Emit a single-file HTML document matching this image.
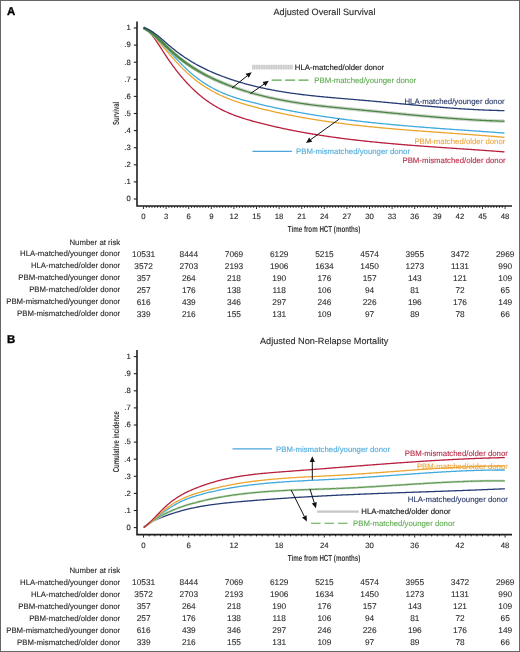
<!DOCTYPE html>
<html><head><meta charset="utf-8"><style>
html,body{margin:0;padding:0;background:#fff;}
#wrap{position:relative;width:520px;height:652px;overflow:hidden;background:#fff;}
#frame{position:absolute;left:0;top:0;width:518px;height:650px;border:1px solid #666;}
svg{position:absolute;left:0;top:0;will-change:transform;}
text{font-family:"Liberation Sans",sans-serif;text-rendering:geometricPrecision;}
</style></head><body><div id="wrap">
<svg width="520" height="652" viewBox="0 0 520 652">
<text x="6.9" y="14.8" text-anchor="start" fill="#000" font-size="11.4" font-weight="bold" stroke="#000" stroke-width="0.35">A</text>
<text x="324.5" y="14.9" text-anchor="middle" fill="#2a2a2a" font-size="9.15"  stroke="#2a2a2a" stroke-width="0.12">Adjusted Overall Survival</text>
<path d="M137.0,21.5 V206 H512" fill="none" stroke="#1e1e1e" stroke-width="1.6"/>
<path d="M133.8,28.00 H137.0" stroke="#222" stroke-width="1.1"/>
<text x="130.7" y="30.3" text-anchor="end" fill="#2a2a2a" font-size="7.7" stroke="#2a2a2a" stroke-width="0.15">1</text>
<path d="M133.8,45.10 H137.0" stroke="#222" stroke-width="1.1"/>
<text x="130.7" y="47.4" text-anchor="end" fill="#2a2a2a" font-size="7.7" stroke="#2a2a2a" stroke-width="0.15">.9</text>
<path d="M133.8,62.20 H137.0" stroke="#222" stroke-width="1.1"/>
<text x="130.7" y="64.5" text-anchor="end" fill="#2a2a2a" font-size="7.7" stroke="#2a2a2a" stroke-width="0.15">.8</text>
<path d="M133.8,79.30 H137.0" stroke="#222" stroke-width="1.1"/>
<text x="130.7" y="81.60000000000001" text-anchor="end" fill="#2a2a2a" font-size="7.7" stroke="#2a2a2a" stroke-width="0.15">.7</text>
<path d="M133.8,96.40 H137.0" stroke="#222" stroke-width="1.1"/>
<text x="130.7" y="98.7" text-anchor="end" fill="#2a2a2a" font-size="7.7" stroke="#2a2a2a" stroke-width="0.15">.6</text>
<path d="M133.8,113.50 H137.0" stroke="#222" stroke-width="1.1"/>
<text x="130.7" y="115.8" text-anchor="end" fill="#2a2a2a" font-size="7.7" stroke="#2a2a2a" stroke-width="0.15">.5</text>
<path d="M133.8,130.60 H137.0" stroke="#222" stroke-width="1.1"/>
<text x="130.7" y="132.90000000000003" text-anchor="end" fill="#2a2a2a" font-size="7.7" stroke="#2a2a2a" stroke-width="0.15">.4</text>
<path d="M133.8,147.70 H137.0" stroke="#222" stroke-width="1.1"/>
<text x="130.7" y="150.00000000000003" text-anchor="end" fill="#2a2a2a" font-size="7.7" stroke="#2a2a2a" stroke-width="0.15">.3</text>
<path d="M133.8,164.80 H137.0" stroke="#222" stroke-width="1.1"/>
<text x="130.7" y="167.10000000000002" text-anchor="end" fill="#2a2a2a" font-size="7.7" stroke="#2a2a2a" stroke-width="0.15">.2</text>
<path d="M133.8,181.90 H137.0" stroke="#222" stroke-width="1.1"/>
<text x="130.7" y="184.20000000000002" text-anchor="end" fill="#2a2a2a" font-size="7.7" stroke="#2a2a2a" stroke-width="0.15">.1</text>
<path d="M133.8,199.00 H137.0" stroke="#222" stroke-width="1.1"/>
<text x="130.7" y="201.3" text-anchor="end" fill="#2a2a2a" font-size="7.7" stroke="#2a2a2a" stroke-width="0.15">0</text>
<path d="M143.50,206 V209" stroke="#333" stroke-width="1"/>
<text x="143.50" y="219.4" text-anchor="middle" fill="#2a2a2a" font-size="7.8" stroke="#2a2a2a" stroke-width="0.12">0</text>
<path d="M146.32,206 V207.8" stroke="#222" stroke-width="1"/>
<path d="M149.15,206 V207.8" stroke="#222" stroke-width="1"/>
<path d="M151.97,206 V207.8" stroke="#222" stroke-width="1"/>
<path d="M154.80,206 V207.8" stroke="#222" stroke-width="1"/>
<path d="M157.62,206 V207.8" stroke="#222" stroke-width="1"/>
<path d="M160.45,206 V207.8" stroke="#222" stroke-width="1"/>
<path d="M163.28,206 V207.8" stroke="#222" stroke-width="1"/>
<path d="M166.10,206 V209" stroke="#333" stroke-width="1"/>
<text x="166.10" y="219.4" text-anchor="middle" fill="#2a2a2a" font-size="7.8" stroke="#2a2a2a" stroke-width="0.12">3</text>
<path d="M168.92,206 V207.8" stroke="#222" stroke-width="1"/>
<path d="M171.75,206 V207.8" stroke="#222" stroke-width="1"/>
<path d="M174.57,206 V207.8" stroke="#222" stroke-width="1"/>
<path d="M177.40,206 V207.8" stroke="#222" stroke-width="1"/>
<path d="M180.22,206 V207.8" stroke="#222" stroke-width="1"/>
<path d="M183.05,206 V207.8" stroke="#222" stroke-width="1"/>
<path d="M185.88,206 V207.8" stroke="#222" stroke-width="1"/>
<path d="M188.70,206 V209" stroke="#333" stroke-width="1"/>
<text x="188.70" y="219.4" text-anchor="middle" fill="#2a2a2a" font-size="7.8" stroke="#2a2a2a" stroke-width="0.12">6</text>
<path d="M191.52,206 V207.8" stroke="#222" stroke-width="1"/>
<path d="M194.35,206 V207.8" stroke="#222" stroke-width="1"/>
<path d="M197.17,206 V207.8" stroke="#222" stroke-width="1"/>
<path d="M200.00,206 V207.8" stroke="#222" stroke-width="1"/>
<path d="M202.82,206 V207.8" stroke="#222" stroke-width="1"/>
<path d="M205.65,206 V207.8" stroke="#222" stroke-width="1"/>
<path d="M208.47,206 V207.8" stroke="#222" stroke-width="1"/>
<path d="M211.30,206 V209" stroke="#333" stroke-width="1"/>
<text x="211.30" y="219.4" text-anchor="middle" fill="#2a2a2a" font-size="7.8" stroke="#2a2a2a" stroke-width="0.12">9</text>
<path d="M214.12,206 V207.8" stroke="#222" stroke-width="1"/>
<path d="M216.95,206 V207.8" stroke="#222" stroke-width="1"/>
<path d="M219.78,206 V207.8" stroke="#222" stroke-width="1"/>
<path d="M222.60,206 V207.8" stroke="#222" stroke-width="1"/>
<path d="M225.43,206 V207.8" stroke="#222" stroke-width="1"/>
<path d="M228.25,206 V207.8" stroke="#222" stroke-width="1"/>
<path d="M231.08,206 V207.8" stroke="#222" stroke-width="1"/>
<path d="M233.90,206 V209" stroke="#333" stroke-width="1"/>
<text x="233.90" y="219.4" text-anchor="middle" fill="#2a2a2a" font-size="7.8" stroke="#2a2a2a" stroke-width="0.12">12</text>
<path d="M236.72,206 V207.8" stroke="#222" stroke-width="1"/>
<path d="M239.55,206 V207.8" stroke="#222" stroke-width="1"/>
<path d="M242.38,206 V207.8" stroke="#222" stroke-width="1"/>
<path d="M245.20,206 V207.8" stroke="#222" stroke-width="1"/>
<path d="M248.03,206 V207.8" stroke="#222" stroke-width="1"/>
<path d="M250.85,206 V207.8" stroke="#222" stroke-width="1"/>
<path d="M253.68,206 V207.8" stroke="#222" stroke-width="1"/>
<path d="M256.50,206 V209" stroke="#333" stroke-width="1"/>
<text x="256.50" y="219.4" text-anchor="middle" fill="#2a2a2a" font-size="7.8" stroke="#2a2a2a" stroke-width="0.12">15</text>
<path d="M259.32,206 V207.8" stroke="#222" stroke-width="1"/>
<path d="M262.15,206 V207.8" stroke="#222" stroke-width="1"/>
<path d="M264.98,206 V207.8" stroke="#222" stroke-width="1"/>
<path d="M267.80,206 V207.8" stroke="#222" stroke-width="1"/>
<path d="M270.62,206 V207.8" stroke="#222" stroke-width="1"/>
<path d="M273.45,206 V207.8" stroke="#222" stroke-width="1"/>
<path d="M276.27,206 V207.8" stroke="#222" stroke-width="1"/>
<path d="M279.10,206 V209" stroke="#333" stroke-width="1"/>
<text x="279.10" y="219.4" text-anchor="middle" fill="#2a2a2a" font-size="7.8" stroke="#2a2a2a" stroke-width="0.12">18</text>
<path d="M281.93,206 V207.8" stroke="#222" stroke-width="1"/>
<path d="M284.75,206 V207.8" stroke="#222" stroke-width="1"/>
<path d="M287.58,206 V207.8" stroke="#222" stroke-width="1"/>
<path d="M290.40,206 V207.8" stroke="#222" stroke-width="1"/>
<path d="M293.23,206 V207.8" stroke="#222" stroke-width="1"/>
<path d="M296.05,206 V207.8" stroke="#222" stroke-width="1"/>
<path d="M298.88,206 V207.8" stroke="#222" stroke-width="1"/>
<path d="M301.70,206 V209" stroke="#333" stroke-width="1"/>
<text x="301.70" y="219.4" text-anchor="middle" fill="#2a2a2a" font-size="7.8" stroke="#2a2a2a" stroke-width="0.12">21</text>
<path d="M304.53,206 V207.8" stroke="#222" stroke-width="1"/>
<path d="M307.35,206 V207.8" stroke="#222" stroke-width="1"/>
<path d="M310.18,206 V207.8" stroke="#222" stroke-width="1"/>
<path d="M313.00,206 V207.8" stroke="#222" stroke-width="1"/>
<path d="M315.83,206 V207.8" stroke="#222" stroke-width="1"/>
<path d="M318.65,206 V207.8" stroke="#222" stroke-width="1"/>
<path d="M321.48,206 V207.8" stroke="#222" stroke-width="1"/>
<path d="M324.30,206 V209" stroke="#333" stroke-width="1"/>
<text x="324.30" y="219.4" text-anchor="middle" fill="#2a2a2a" font-size="7.8" stroke="#2a2a2a" stroke-width="0.12">24</text>
<path d="M327.12,206 V207.8" stroke="#222" stroke-width="1"/>
<path d="M329.95,206 V207.8" stroke="#222" stroke-width="1"/>
<path d="M332.78,206 V207.8" stroke="#222" stroke-width="1"/>
<path d="M335.60,206 V207.8" stroke="#222" stroke-width="1"/>
<path d="M338.43,206 V207.8" stroke="#222" stroke-width="1"/>
<path d="M341.25,206 V207.8" stroke="#222" stroke-width="1"/>
<path d="M344.07,206 V207.8" stroke="#222" stroke-width="1"/>
<path d="M346.90,206 V209" stroke="#333" stroke-width="1"/>
<text x="346.90" y="219.4" text-anchor="middle" fill="#2a2a2a" font-size="7.8" stroke="#2a2a2a" stroke-width="0.12">27</text>
<path d="M349.72,206 V207.8" stroke="#222" stroke-width="1"/>
<path d="M352.55,206 V207.8" stroke="#222" stroke-width="1"/>
<path d="M355.38,206 V207.8" stroke="#222" stroke-width="1"/>
<path d="M358.20,206 V207.8" stroke="#222" stroke-width="1"/>
<path d="M361.02,206 V207.8" stroke="#222" stroke-width="1"/>
<path d="M363.85,206 V207.8" stroke="#222" stroke-width="1"/>
<path d="M366.67,206 V207.8" stroke="#222" stroke-width="1"/>
<path d="M369.50,206 V209" stroke="#333" stroke-width="1"/>
<text x="369.50" y="219.4" text-anchor="middle" fill="#2a2a2a" font-size="7.8" stroke="#2a2a2a" stroke-width="0.12">30</text>
<path d="M372.32,206 V207.8" stroke="#222" stroke-width="1"/>
<path d="M375.15,206 V207.8" stroke="#222" stroke-width="1"/>
<path d="M377.98,206 V207.8" stroke="#222" stroke-width="1"/>
<path d="M380.80,206 V207.8" stroke="#222" stroke-width="1"/>
<path d="M383.62,206 V207.8" stroke="#222" stroke-width="1"/>
<path d="M386.45,206 V207.8" stroke="#222" stroke-width="1"/>
<path d="M389.27,206 V207.8" stroke="#222" stroke-width="1"/>
<path d="M392.10,206 V209" stroke="#333" stroke-width="1"/>
<text x="392.10" y="219.4" text-anchor="middle" fill="#2a2a2a" font-size="7.8" stroke="#2a2a2a" stroke-width="0.12">33</text>
<path d="M394.93,206 V207.8" stroke="#222" stroke-width="1"/>
<path d="M397.75,206 V207.8" stroke="#222" stroke-width="1"/>
<path d="M400.58,206 V207.8" stroke="#222" stroke-width="1"/>
<path d="M403.40,206 V207.8" stroke="#222" stroke-width="1"/>
<path d="M406.23,206 V207.8" stroke="#222" stroke-width="1"/>
<path d="M409.05,206 V207.8" stroke="#222" stroke-width="1"/>
<path d="M411.88,206 V207.8" stroke="#222" stroke-width="1"/>
<path d="M414.70,206 V209" stroke="#333" stroke-width="1"/>
<text x="414.70" y="219.4" text-anchor="middle" fill="#2a2a2a" font-size="7.8" stroke="#2a2a2a" stroke-width="0.12">36</text>
<path d="M417.53,206 V207.8" stroke="#222" stroke-width="1"/>
<path d="M420.35,206 V207.8" stroke="#222" stroke-width="1"/>
<path d="M423.18,206 V207.8" stroke="#222" stroke-width="1"/>
<path d="M426.00,206 V207.8" stroke="#222" stroke-width="1"/>
<path d="M428.83,206 V207.8" stroke="#222" stroke-width="1"/>
<path d="M431.65,206 V207.8" stroke="#222" stroke-width="1"/>
<path d="M434.48,206 V207.8" stroke="#222" stroke-width="1"/>
<path d="M437.30,206 V209" stroke="#333" stroke-width="1"/>
<text x="437.30" y="219.4" text-anchor="middle" fill="#2a2a2a" font-size="7.8" stroke="#2a2a2a" stroke-width="0.12">39</text>
<path d="M440.12,206 V207.8" stroke="#222" stroke-width="1"/>
<path d="M442.95,206 V207.8" stroke="#222" stroke-width="1"/>
<path d="M445.78,206 V207.8" stroke="#222" stroke-width="1"/>
<path d="M448.60,206 V207.8" stroke="#222" stroke-width="1"/>
<path d="M451.43,206 V207.8" stroke="#222" stroke-width="1"/>
<path d="M454.25,206 V207.8" stroke="#222" stroke-width="1"/>
<path d="M457.07,206 V207.8" stroke="#222" stroke-width="1"/>
<path d="M459.90,206 V209" stroke="#333" stroke-width="1"/>
<text x="459.90" y="219.4" text-anchor="middle" fill="#2a2a2a" font-size="7.8" stroke="#2a2a2a" stroke-width="0.12">42</text>
<path d="M462.73,206 V207.8" stroke="#222" stroke-width="1"/>
<path d="M465.55,206 V207.8" stroke="#222" stroke-width="1"/>
<path d="M468.38,206 V207.8" stroke="#222" stroke-width="1"/>
<path d="M471.20,206 V207.8" stroke="#222" stroke-width="1"/>
<path d="M474.03,206 V207.8" stroke="#222" stroke-width="1"/>
<path d="M476.85,206 V207.8" stroke="#222" stroke-width="1"/>
<path d="M479.68,206 V207.8" stroke="#222" stroke-width="1"/>
<path d="M482.50,206 V209" stroke="#333" stroke-width="1"/>
<text x="482.50" y="219.4" text-anchor="middle" fill="#2a2a2a" font-size="7.8" stroke="#2a2a2a" stroke-width="0.12">45</text>
<path d="M485.32,206 V207.8" stroke="#222" stroke-width="1"/>
<path d="M488.15,206 V207.8" stroke="#222" stroke-width="1"/>
<path d="M490.98,206 V207.8" stroke="#222" stroke-width="1"/>
<path d="M493.80,206 V207.8" stroke="#222" stroke-width="1"/>
<path d="M496.62,206 V207.8" stroke="#222" stroke-width="1"/>
<path d="M499.45,206 V207.8" stroke="#222" stroke-width="1"/>
<path d="M502.27,206 V207.8" stroke="#222" stroke-width="1"/>
<path d="M505.10,206 V209" stroke="#333" stroke-width="1"/>
<text x="505.10" y="219.4" text-anchor="middle" fill="#2a2a2a" font-size="7.8" stroke="#2a2a2a" stroke-width="0.12">48</text>
<text x="0" y="0" font-size="8.8" font-weight="bold" fill="#3a3a3a" text-anchor="middle" transform="translate(324.1,232.3) scale(0.705,1)">Time from HCT (months)</text>
<text x="0" y="0" font-size="8.8" font-weight="bold" fill="#3a3a3a" text-anchor="middle" transform="translate(118.7,113.4) rotate(-90) scale(0.675,1)">Survival</text>
<text x="120.2" y="244.80" text-anchor="end" fill="#2a2a2a" font-size="7.8"  stroke="#2a2a2a" stroke-width="0.12">Number at risk</text>
<text x="120.2" y="256.45" text-anchor="end" fill="#2a2a2a" font-size="7.8"  stroke="#2a2a2a" stroke-width="0.12">HLA-matched/younger donor</text>
<text x="143.60" y="256.75" text-anchor="middle" fill="#2a2a2a" font-size="8.3" stroke="#2a2a2a" stroke-width="0.1">10531</text>
<text x="188.80" y="256.75" text-anchor="middle" fill="#2a2a2a" font-size="8.3" stroke="#2a2a2a" stroke-width="0.1">8444</text>
<text x="234.00" y="256.75" text-anchor="middle" fill="#2a2a2a" font-size="8.3" stroke="#2a2a2a" stroke-width="0.1">7069</text>
<text x="279.20" y="256.75" text-anchor="middle" fill="#2a2a2a" font-size="8.3" stroke="#2a2a2a" stroke-width="0.1">6129</text>
<text x="324.40" y="256.75" text-anchor="middle" fill="#2a2a2a" font-size="8.3" stroke="#2a2a2a" stroke-width="0.1">5215</text>
<text x="369.60" y="256.75" text-anchor="middle" fill="#2a2a2a" font-size="8.3" stroke="#2a2a2a" stroke-width="0.1">4574</text>
<text x="414.80" y="256.75" text-anchor="middle" fill="#2a2a2a" font-size="8.3" stroke="#2a2a2a" stroke-width="0.1">3955</text>
<text x="460.00" y="256.75" text-anchor="middle" fill="#2a2a2a" font-size="8.3" stroke="#2a2a2a" stroke-width="0.1">3472</text>
<text x="505.20" y="256.75" text-anchor="middle" fill="#2a2a2a" font-size="8.3" stroke="#2a2a2a" stroke-width="0.1">2969</text>
<text x="120.2" y="268.40" text-anchor="end" fill="#2a2a2a" font-size="7.8"  stroke="#2a2a2a" stroke-width="0.12">HLA-matched/older donor</text>
<text x="143.60" y="268.70" text-anchor="middle" fill="#2a2a2a" font-size="8.3" stroke="#2a2a2a" stroke-width="0.1">3572</text>
<text x="188.80" y="268.70" text-anchor="middle" fill="#2a2a2a" font-size="8.3" stroke="#2a2a2a" stroke-width="0.1">2703</text>
<text x="234.00" y="268.70" text-anchor="middle" fill="#2a2a2a" font-size="8.3" stroke="#2a2a2a" stroke-width="0.1">2193</text>
<text x="279.20" y="268.70" text-anchor="middle" fill="#2a2a2a" font-size="8.3" stroke="#2a2a2a" stroke-width="0.1">1906</text>
<text x="324.40" y="268.70" text-anchor="middle" fill="#2a2a2a" font-size="8.3" stroke="#2a2a2a" stroke-width="0.1">1634</text>
<text x="369.60" y="268.70" text-anchor="middle" fill="#2a2a2a" font-size="8.3" stroke="#2a2a2a" stroke-width="0.1">1450</text>
<text x="414.80" y="268.70" text-anchor="middle" fill="#2a2a2a" font-size="8.3" stroke="#2a2a2a" stroke-width="0.1">1273</text>
<text x="460.00" y="268.70" text-anchor="middle" fill="#2a2a2a" font-size="8.3" stroke="#2a2a2a" stroke-width="0.1">1131</text>
<text x="505.20" y="268.70" text-anchor="middle" fill="#2a2a2a" font-size="8.3" stroke="#2a2a2a" stroke-width="0.1">990</text>
<text x="120.2" y="280.35" text-anchor="end" fill="#2a2a2a" font-size="7.8"  stroke="#2a2a2a" stroke-width="0.12">PBM-matched/younger donor</text>
<text x="143.60" y="280.65" text-anchor="middle" fill="#2a2a2a" font-size="8.3" stroke="#2a2a2a" stroke-width="0.1">357</text>
<text x="188.80" y="280.65" text-anchor="middle" fill="#2a2a2a" font-size="8.3" stroke="#2a2a2a" stroke-width="0.1">264</text>
<text x="234.00" y="280.65" text-anchor="middle" fill="#2a2a2a" font-size="8.3" stroke="#2a2a2a" stroke-width="0.1">218</text>
<text x="279.20" y="280.65" text-anchor="middle" fill="#2a2a2a" font-size="8.3" stroke="#2a2a2a" stroke-width="0.1">190</text>
<text x="324.40" y="280.65" text-anchor="middle" fill="#2a2a2a" font-size="8.3" stroke="#2a2a2a" stroke-width="0.1">176</text>
<text x="369.60" y="280.65" text-anchor="middle" fill="#2a2a2a" font-size="8.3" stroke="#2a2a2a" stroke-width="0.1">157</text>
<text x="414.80" y="280.65" text-anchor="middle" fill="#2a2a2a" font-size="8.3" stroke="#2a2a2a" stroke-width="0.1">143</text>
<text x="460.00" y="280.65" text-anchor="middle" fill="#2a2a2a" font-size="8.3" stroke="#2a2a2a" stroke-width="0.1">121</text>
<text x="505.20" y="280.65" text-anchor="middle" fill="#2a2a2a" font-size="8.3" stroke="#2a2a2a" stroke-width="0.1">109</text>
<text x="120.2" y="292.30" text-anchor="end" fill="#2a2a2a" font-size="7.8"  stroke="#2a2a2a" stroke-width="0.12">PBM-matched/older donor</text>
<text x="143.60" y="292.60" text-anchor="middle" fill="#2a2a2a" font-size="8.3" stroke="#2a2a2a" stroke-width="0.1">257</text>
<text x="188.80" y="292.60" text-anchor="middle" fill="#2a2a2a" font-size="8.3" stroke="#2a2a2a" stroke-width="0.1">176</text>
<text x="234.00" y="292.60" text-anchor="middle" fill="#2a2a2a" font-size="8.3" stroke="#2a2a2a" stroke-width="0.1">138</text>
<text x="279.20" y="292.60" text-anchor="middle" fill="#2a2a2a" font-size="8.3" stroke="#2a2a2a" stroke-width="0.1">118</text>
<text x="324.40" y="292.60" text-anchor="middle" fill="#2a2a2a" font-size="8.3" stroke="#2a2a2a" stroke-width="0.1">106</text>
<text x="369.60" y="292.60" text-anchor="middle" fill="#2a2a2a" font-size="8.3" stroke="#2a2a2a" stroke-width="0.1">94</text>
<text x="414.80" y="292.60" text-anchor="middle" fill="#2a2a2a" font-size="8.3" stroke="#2a2a2a" stroke-width="0.1">81</text>
<text x="460.00" y="292.60" text-anchor="middle" fill="#2a2a2a" font-size="8.3" stroke="#2a2a2a" stroke-width="0.1">72</text>
<text x="505.20" y="292.60" text-anchor="middle" fill="#2a2a2a" font-size="8.3" stroke="#2a2a2a" stroke-width="0.1">65</text>
<text x="120.2" y="304.25" text-anchor="end" fill="#2a2a2a" font-size="7.8"  stroke="#2a2a2a" stroke-width="0.12">PBM-mismatched/younger donor</text>
<text x="143.60" y="304.55" text-anchor="middle" fill="#2a2a2a" font-size="8.3" stroke="#2a2a2a" stroke-width="0.1">616</text>
<text x="188.80" y="304.55" text-anchor="middle" fill="#2a2a2a" font-size="8.3" stroke="#2a2a2a" stroke-width="0.1">439</text>
<text x="234.00" y="304.55" text-anchor="middle" fill="#2a2a2a" font-size="8.3" stroke="#2a2a2a" stroke-width="0.1">346</text>
<text x="279.20" y="304.55" text-anchor="middle" fill="#2a2a2a" font-size="8.3" stroke="#2a2a2a" stroke-width="0.1">297</text>
<text x="324.40" y="304.55" text-anchor="middle" fill="#2a2a2a" font-size="8.3" stroke="#2a2a2a" stroke-width="0.1">246</text>
<text x="369.60" y="304.55" text-anchor="middle" fill="#2a2a2a" font-size="8.3" stroke="#2a2a2a" stroke-width="0.1">226</text>
<text x="414.80" y="304.55" text-anchor="middle" fill="#2a2a2a" font-size="8.3" stroke="#2a2a2a" stroke-width="0.1">196</text>
<text x="460.00" y="304.55" text-anchor="middle" fill="#2a2a2a" font-size="8.3" stroke="#2a2a2a" stroke-width="0.1">176</text>
<text x="505.20" y="304.55" text-anchor="middle" fill="#2a2a2a" font-size="8.3" stroke="#2a2a2a" stroke-width="0.1">149</text>
<text x="120.2" y="316.20" text-anchor="end" fill="#2a2a2a" font-size="7.8"  stroke="#2a2a2a" stroke-width="0.12">PBM-mismatched/older donor</text>
<text x="143.60" y="316.50" text-anchor="middle" fill="#2a2a2a" font-size="8.3" stroke="#2a2a2a" stroke-width="0.1">339</text>
<text x="188.80" y="316.50" text-anchor="middle" fill="#2a2a2a" font-size="8.3" stroke="#2a2a2a" stroke-width="0.1">216</text>
<text x="234.00" y="316.50" text-anchor="middle" fill="#2a2a2a" font-size="8.3" stroke="#2a2a2a" stroke-width="0.1">155</text>
<text x="279.20" y="316.50" text-anchor="middle" fill="#2a2a2a" font-size="8.3" stroke="#2a2a2a" stroke-width="0.1">131</text>
<text x="324.40" y="316.50" text-anchor="middle" fill="#2a2a2a" font-size="8.3" stroke="#2a2a2a" stroke-width="0.1">109</text>
<text x="369.60" y="316.50" text-anchor="middle" fill="#2a2a2a" font-size="8.3" stroke="#2a2a2a" stroke-width="0.1">97</text>
<text x="414.80" y="316.50" text-anchor="middle" fill="#2a2a2a" font-size="8.3" stroke="#2a2a2a" stroke-width="0.1">89</text>
<text x="460.00" y="316.50" text-anchor="middle" fill="#2a2a2a" font-size="8.3" stroke="#2a2a2a" stroke-width="0.1">78</text>
<text x="505.20" y="316.50" text-anchor="middle" fill="#2a2a2a" font-size="8.3" stroke="#2a2a2a" stroke-width="0.1">66</text>
<text x="6.9" y="343.40000000000003" text-anchor="start" fill="#000" font-size="11.4" font-weight="bold" stroke="#000" stroke-width="0.35">B</text>
<text x="324.2" y="343.5" text-anchor="middle" fill="#2a2a2a" font-size="9.15"  stroke="#2a2a2a" stroke-width="0.12">Adjusted Non-Relapse Mortality</text>
<path d="M137.0,350.1 V534.6 H512" fill="none" stroke="#1e1e1e" stroke-width="1.6"/>
<path d="M133.8,356.60 H137.0" stroke="#222" stroke-width="1.1"/>
<text x="130.7" y="358.90000000000003" text-anchor="end" fill="#2a2a2a" font-size="7.7" stroke="#2a2a2a" stroke-width="0.15">1</text>
<path d="M133.8,373.70 H137.0" stroke="#222" stroke-width="1.1"/>
<text x="130.7" y="376.00000000000006" text-anchor="end" fill="#2a2a2a" font-size="7.7" stroke="#2a2a2a" stroke-width="0.15">.9</text>
<path d="M133.8,390.80 H137.0" stroke="#222" stroke-width="1.1"/>
<text x="130.7" y="393.1" text-anchor="end" fill="#2a2a2a" font-size="7.7" stroke="#2a2a2a" stroke-width="0.15">.8</text>
<path d="M133.8,407.90 H137.0" stroke="#222" stroke-width="1.1"/>
<text x="130.7" y="410.20000000000005" text-anchor="end" fill="#2a2a2a" font-size="7.7" stroke="#2a2a2a" stroke-width="0.15">.7</text>
<path d="M133.8,425.00 H137.0" stroke="#222" stroke-width="1.1"/>
<text x="130.7" y="427.3" text-anchor="end" fill="#2a2a2a" font-size="7.7" stroke="#2a2a2a" stroke-width="0.15">.6</text>
<path d="M133.8,442.10 H137.0" stroke="#222" stroke-width="1.1"/>
<text x="130.7" y="444.40000000000003" text-anchor="end" fill="#2a2a2a" font-size="7.7" stroke="#2a2a2a" stroke-width="0.15">.5</text>
<path d="M133.8,459.20 H137.0" stroke="#222" stroke-width="1.1"/>
<text x="130.7" y="461.50000000000006" text-anchor="end" fill="#2a2a2a" font-size="7.7" stroke="#2a2a2a" stroke-width="0.15">.4</text>
<path d="M133.8,476.30 H137.0" stroke="#222" stroke-width="1.1"/>
<text x="130.7" y="478.6000000000001" text-anchor="end" fill="#2a2a2a" font-size="7.7" stroke="#2a2a2a" stroke-width="0.15">.3</text>
<path d="M133.8,493.40 H137.0" stroke="#222" stroke-width="1.1"/>
<text x="130.7" y="495.70000000000005" text-anchor="end" fill="#2a2a2a" font-size="7.7" stroke="#2a2a2a" stroke-width="0.15">.2</text>
<path d="M133.8,510.50 H137.0" stroke="#222" stroke-width="1.1"/>
<text x="130.7" y="512.8" text-anchor="end" fill="#2a2a2a" font-size="7.7" stroke="#2a2a2a" stroke-width="0.15">.1</text>
<path d="M133.8,527.60 H137.0" stroke="#222" stroke-width="1.1"/>
<text x="130.7" y="529.9" text-anchor="end" fill="#2a2a2a" font-size="7.7" stroke="#2a2a2a" stroke-width="0.15">0</text>
<path d="M143.50,534.6 V537.6" stroke="#333" stroke-width="1"/>
<text x="143.50" y="548.0" text-anchor="middle" fill="#2a2a2a" font-size="7.8" stroke="#2a2a2a" stroke-width="0.12">0</text>
<path d="M149.15,534.6 V536.4000000000001" stroke="#222" stroke-width="1"/>
<path d="M154.80,534.6 V536.4000000000001" stroke="#222" stroke-width="1"/>
<path d="M160.45,534.6 V536.4000000000001" stroke="#222" stroke-width="1"/>
<path d="M166.10,534.6 V536.4000000000001" stroke="#222" stroke-width="1"/>
<path d="M171.75,534.6 V536.4000000000001" stroke="#222" stroke-width="1"/>
<path d="M177.40,534.6 V536.4000000000001" stroke="#222" stroke-width="1"/>
<path d="M183.05,534.6 V536.4000000000001" stroke="#222" stroke-width="1"/>
<path d="M188.70,534.6 V537.6" stroke="#333" stroke-width="1"/>
<text x="188.70" y="548.0" text-anchor="middle" fill="#2a2a2a" font-size="7.8" stroke="#2a2a2a" stroke-width="0.12">6</text>
<path d="M194.35,534.6 V536.4000000000001" stroke="#222" stroke-width="1"/>
<path d="M200.00,534.6 V536.4000000000001" stroke="#222" stroke-width="1"/>
<path d="M205.65,534.6 V536.4000000000001" stroke="#222" stroke-width="1"/>
<path d="M211.30,534.6 V536.4000000000001" stroke="#222" stroke-width="1"/>
<path d="M216.95,534.6 V536.4000000000001" stroke="#222" stroke-width="1"/>
<path d="M222.60,534.6 V536.4000000000001" stroke="#222" stroke-width="1"/>
<path d="M228.25,534.6 V536.4000000000001" stroke="#222" stroke-width="1"/>
<path d="M233.90,534.6 V537.6" stroke="#333" stroke-width="1"/>
<text x="233.90" y="548.0" text-anchor="middle" fill="#2a2a2a" font-size="7.8" stroke="#2a2a2a" stroke-width="0.12">12</text>
<path d="M239.55,534.6 V536.4000000000001" stroke="#222" stroke-width="1"/>
<path d="M245.20,534.6 V536.4000000000001" stroke="#222" stroke-width="1"/>
<path d="M250.85,534.6 V536.4000000000001" stroke="#222" stroke-width="1"/>
<path d="M256.50,534.6 V536.4000000000001" stroke="#222" stroke-width="1"/>
<path d="M262.15,534.6 V536.4000000000001" stroke="#222" stroke-width="1"/>
<path d="M267.80,534.6 V536.4000000000001" stroke="#222" stroke-width="1"/>
<path d="M273.45,534.6 V536.4000000000001" stroke="#222" stroke-width="1"/>
<path d="M279.10,534.6 V537.6" stroke="#333" stroke-width="1"/>
<text x="279.10" y="548.0" text-anchor="middle" fill="#2a2a2a" font-size="7.8" stroke="#2a2a2a" stroke-width="0.12">18</text>
<path d="M284.75,534.6 V536.4000000000001" stroke="#222" stroke-width="1"/>
<path d="M290.40,534.6 V536.4000000000001" stroke="#222" stroke-width="1"/>
<path d="M296.05,534.6 V536.4000000000001" stroke="#222" stroke-width="1"/>
<path d="M301.70,534.6 V536.4000000000001" stroke="#222" stroke-width="1"/>
<path d="M307.35,534.6 V536.4000000000001" stroke="#222" stroke-width="1"/>
<path d="M313.00,534.6 V536.4000000000001" stroke="#222" stroke-width="1"/>
<path d="M318.65,534.6 V536.4000000000001" stroke="#222" stroke-width="1"/>
<path d="M324.30,534.6 V537.6" stroke="#333" stroke-width="1"/>
<text x="324.30" y="548.0" text-anchor="middle" fill="#2a2a2a" font-size="7.8" stroke="#2a2a2a" stroke-width="0.12">24</text>
<path d="M329.95,534.6 V536.4000000000001" stroke="#222" stroke-width="1"/>
<path d="M335.60,534.6 V536.4000000000001" stroke="#222" stroke-width="1"/>
<path d="M341.25,534.6 V536.4000000000001" stroke="#222" stroke-width="1"/>
<path d="M346.90,534.6 V536.4000000000001" stroke="#222" stroke-width="1"/>
<path d="M352.55,534.6 V536.4000000000001" stroke="#222" stroke-width="1"/>
<path d="M358.20,534.6 V536.4000000000001" stroke="#222" stroke-width="1"/>
<path d="M363.85,534.6 V536.4000000000001" stroke="#222" stroke-width="1"/>
<path d="M369.50,534.6 V537.6" stroke="#333" stroke-width="1"/>
<text x="369.50" y="548.0" text-anchor="middle" fill="#2a2a2a" font-size="7.8" stroke="#2a2a2a" stroke-width="0.12">30</text>
<path d="M375.15,534.6 V536.4000000000001" stroke="#222" stroke-width="1"/>
<path d="M380.80,534.6 V536.4000000000001" stroke="#222" stroke-width="1"/>
<path d="M386.45,534.6 V536.4000000000001" stroke="#222" stroke-width="1"/>
<path d="M392.10,534.6 V536.4000000000001" stroke="#222" stroke-width="1"/>
<path d="M397.75,534.6 V536.4000000000001" stroke="#222" stroke-width="1"/>
<path d="M403.40,534.6 V536.4000000000001" stroke="#222" stroke-width="1"/>
<path d="M409.05,534.6 V536.4000000000001" stroke="#222" stroke-width="1"/>
<path d="M414.70,534.6 V537.6" stroke="#333" stroke-width="1"/>
<text x="414.70" y="548.0" text-anchor="middle" fill="#2a2a2a" font-size="7.8" stroke="#2a2a2a" stroke-width="0.12">36</text>
<path d="M420.35,534.6 V536.4000000000001" stroke="#222" stroke-width="1"/>
<path d="M426.00,534.6 V536.4000000000001" stroke="#222" stroke-width="1"/>
<path d="M431.65,534.6 V536.4000000000001" stroke="#222" stroke-width="1"/>
<path d="M437.30,534.6 V536.4000000000001" stroke="#222" stroke-width="1"/>
<path d="M442.95,534.6 V536.4000000000001" stroke="#222" stroke-width="1"/>
<path d="M448.60,534.6 V536.4000000000001" stroke="#222" stroke-width="1"/>
<path d="M454.25,534.6 V536.4000000000001" stroke="#222" stroke-width="1"/>
<path d="M459.90,534.6 V537.6" stroke="#333" stroke-width="1"/>
<text x="459.90" y="548.0" text-anchor="middle" fill="#2a2a2a" font-size="7.8" stroke="#2a2a2a" stroke-width="0.12">42</text>
<path d="M465.55,534.6 V536.4000000000001" stroke="#222" stroke-width="1"/>
<path d="M471.20,534.6 V536.4000000000001" stroke="#222" stroke-width="1"/>
<path d="M476.85,534.6 V536.4000000000001" stroke="#222" stroke-width="1"/>
<path d="M482.50,534.6 V536.4000000000001" stroke="#222" stroke-width="1"/>
<path d="M488.15,534.6 V536.4000000000001" stroke="#222" stroke-width="1"/>
<path d="M493.80,534.6 V536.4000000000001" stroke="#222" stroke-width="1"/>
<path d="M499.45,534.6 V536.4000000000001" stroke="#222" stroke-width="1"/>
<path d="M505.10,534.6 V537.6" stroke="#333" stroke-width="1"/>
<text x="505.10" y="548.0" text-anchor="middle" fill="#2a2a2a" font-size="7.8" stroke="#2a2a2a" stroke-width="0.12">48</text>
<text x="0" y="0" font-size="8.8" font-weight="bold" fill="#3a3a3a" text-anchor="middle" transform="translate(324.1,560.9000000000001) scale(0.705,1)">Time from HCT (months)</text>
<text x="0" y="0" font-size="8.8" font-weight="bold" fill="#3a3a3a" text-anchor="middle" transform="translate(118.7,441.70000000000005) rotate(-90) scale(0.675,1)">Cumulative incidence</text>
<text x="120.2" y="573.40" text-anchor="end" fill="#2a2a2a" font-size="7.8"  stroke="#2a2a2a" stroke-width="0.12">Number at risk</text>
<text x="120.2" y="585.05" text-anchor="end" fill="#2a2a2a" font-size="7.8"  stroke="#2a2a2a" stroke-width="0.12">HLA-matched/younger donor</text>
<text x="143.60" y="585.35" text-anchor="middle" fill="#2a2a2a" font-size="8.3" stroke="#2a2a2a" stroke-width="0.1">10531</text>
<text x="188.80" y="585.35" text-anchor="middle" fill="#2a2a2a" font-size="8.3" stroke="#2a2a2a" stroke-width="0.1">8444</text>
<text x="234.00" y="585.35" text-anchor="middle" fill="#2a2a2a" font-size="8.3" stroke="#2a2a2a" stroke-width="0.1">7069</text>
<text x="279.20" y="585.35" text-anchor="middle" fill="#2a2a2a" font-size="8.3" stroke="#2a2a2a" stroke-width="0.1">6129</text>
<text x="324.40" y="585.35" text-anchor="middle" fill="#2a2a2a" font-size="8.3" stroke="#2a2a2a" stroke-width="0.1">5215</text>
<text x="369.60" y="585.35" text-anchor="middle" fill="#2a2a2a" font-size="8.3" stroke="#2a2a2a" stroke-width="0.1">4574</text>
<text x="414.80" y="585.35" text-anchor="middle" fill="#2a2a2a" font-size="8.3" stroke="#2a2a2a" stroke-width="0.1">3955</text>
<text x="460.00" y="585.35" text-anchor="middle" fill="#2a2a2a" font-size="8.3" stroke="#2a2a2a" stroke-width="0.1">3472</text>
<text x="505.20" y="585.35" text-anchor="middle" fill="#2a2a2a" font-size="8.3" stroke="#2a2a2a" stroke-width="0.1">2969</text>
<text x="120.2" y="597.00" text-anchor="end" fill="#2a2a2a" font-size="7.8"  stroke="#2a2a2a" stroke-width="0.12">HLA-matched/older donor</text>
<text x="143.60" y="597.30" text-anchor="middle" fill="#2a2a2a" font-size="8.3" stroke="#2a2a2a" stroke-width="0.1">3572</text>
<text x="188.80" y="597.30" text-anchor="middle" fill="#2a2a2a" font-size="8.3" stroke="#2a2a2a" stroke-width="0.1">2703</text>
<text x="234.00" y="597.30" text-anchor="middle" fill="#2a2a2a" font-size="8.3" stroke="#2a2a2a" stroke-width="0.1">2193</text>
<text x="279.20" y="597.30" text-anchor="middle" fill="#2a2a2a" font-size="8.3" stroke="#2a2a2a" stroke-width="0.1">1906</text>
<text x="324.40" y="597.30" text-anchor="middle" fill="#2a2a2a" font-size="8.3" stroke="#2a2a2a" stroke-width="0.1">1634</text>
<text x="369.60" y="597.30" text-anchor="middle" fill="#2a2a2a" font-size="8.3" stroke="#2a2a2a" stroke-width="0.1">1450</text>
<text x="414.80" y="597.30" text-anchor="middle" fill="#2a2a2a" font-size="8.3" stroke="#2a2a2a" stroke-width="0.1">1273</text>
<text x="460.00" y="597.30" text-anchor="middle" fill="#2a2a2a" font-size="8.3" stroke="#2a2a2a" stroke-width="0.1">1131</text>
<text x="505.20" y="597.30" text-anchor="middle" fill="#2a2a2a" font-size="8.3" stroke="#2a2a2a" stroke-width="0.1">990</text>
<text x="120.2" y="608.95" text-anchor="end" fill="#2a2a2a" font-size="7.8"  stroke="#2a2a2a" stroke-width="0.12">PBM-matched/younger donor</text>
<text x="143.60" y="609.25" text-anchor="middle" fill="#2a2a2a" font-size="8.3" stroke="#2a2a2a" stroke-width="0.1">357</text>
<text x="188.80" y="609.25" text-anchor="middle" fill="#2a2a2a" font-size="8.3" stroke="#2a2a2a" stroke-width="0.1">264</text>
<text x="234.00" y="609.25" text-anchor="middle" fill="#2a2a2a" font-size="8.3" stroke="#2a2a2a" stroke-width="0.1">218</text>
<text x="279.20" y="609.25" text-anchor="middle" fill="#2a2a2a" font-size="8.3" stroke="#2a2a2a" stroke-width="0.1">190</text>
<text x="324.40" y="609.25" text-anchor="middle" fill="#2a2a2a" font-size="8.3" stroke="#2a2a2a" stroke-width="0.1">176</text>
<text x="369.60" y="609.25" text-anchor="middle" fill="#2a2a2a" font-size="8.3" stroke="#2a2a2a" stroke-width="0.1">157</text>
<text x="414.80" y="609.25" text-anchor="middle" fill="#2a2a2a" font-size="8.3" stroke="#2a2a2a" stroke-width="0.1">143</text>
<text x="460.00" y="609.25" text-anchor="middle" fill="#2a2a2a" font-size="8.3" stroke="#2a2a2a" stroke-width="0.1">121</text>
<text x="505.20" y="609.25" text-anchor="middle" fill="#2a2a2a" font-size="8.3" stroke="#2a2a2a" stroke-width="0.1">109</text>
<text x="120.2" y="620.90" text-anchor="end" fill="#2a2a2a" font-size="7.8"  stroke="#2a2a2a" stroke-width="0.12">PBM-matched/older donor</text>
<text x="143.60" y="621.20" text-anchor="middle" fill="#2a2a2a" font-size="8.3" stroke="#2a2a2a" stroke-width="0.1">257</text>
<text x="188.80" y="621.20" text-anchor="middle" fill="#2a2a2a" font-size="8.3" stroke="#2a2a2a" stroke-width="0.1">176</text>
<text x="234.00" y="621.20" text-anchor="middle" fill="#2a2a2a" font-size="8.3" stroke="#2a2a2a" stroke-width="0.1">138</text>
<text x="279.20" y="621.20" text-anchor="middle" fill="#2a2a2a" font-size="8.3" stroke="#2a2a2a" stroke-width="0.1">118</text>
<text x="324.40" y="621.20" text-anchor="middle" fill="#2a2a2a" font-size="8.3" stroke="#2a2a2a" stroke-width="0.1">106</text>
<text x="369.60" y="621.20" text-anchor="middle" fill="#2a2a2a" font-size="8.3" stroke="#2a2a2a" stroke-width="0.1">94</text>
<text x="414.80" y="621.20" text-anchor="middle" fill="#2a2a2a" font-size="8.3" stroke="#2a2a2a" stroke-width="0.1">81</text>
<text x="460.00" y="621.20" text-anchor="middle" fill="#2a2a2a" font-size="8.3" stroke="#2a2a2a" stroke-width="0.1">72</text>
<text x="505.20" y="621.20" text-anchor="middle" fill="#2a2a2a" font-size="8.3" stroke="#2a2a2a" stroke-width="0.1">65</text>
<text x="120.2" y="632.85" text-anchor="end" fill="#2a2a2a" font-size="7.8"  stroke="#2a2a2a" stroke-width="0.12">PBM-mismatched/younger donor</text>
<text x="143.60" y="633.15" text-anchor="middle" fill="#2a2a2a" font-size="8.3" stroke="#2a2a2a" stroke-width="0.1">616</text>
<text x="188.80" y="633.15" text-anchor="middle" fill="#2a2a2a" font-size="8.3" stroke="#2a2a2a" stroke-width="0.1">439</text>
<text x="234.00" y="633.15" text-anchor="middle" fill="#2a2a2a" font-size="8.3" stroke="#2a2a2a" stroke-width="0.1">346</text>
<text x="279.20" y="633.15" text-anchor="middle" fill="#2a2a2a" font-size="8.3" stroke="#2a2a2a" stroke-width="0.1">297</text>
<text x="324.40" y="633.15" text-anchor="middle" fill="#2a2a2a" font-size="8.3" stroke="#2a2a2a" stroke-width="0.1">246</text>
<text x="369.60" y="633.15" text-anchor="middle" fill="#2a2a2a" font-size="8.3" stroke="#2a2a2a" stroke-width="0.1">226</text>
<text x="414.80" y="633.15" text-anchor="middle" fill="#2a2a2a" font-size="8.3" stroke="#2a2a2a" stroke-width="0.1">196</text>
<text x="460.00" y="633.15" text-anchor="middle" fill="#2a2a2a" font-size="8.3" stroke="#2a2a2a" stroke-width="0.1">176</text>
<text x="505.20" y="633.15" text-anchor="middle" fill="#2a2a2a" font-size="8.3" stroke="#2a2a2a" stroke-width="0.1">149</text>
<text x="120.2" y="644.80" text-anchor="end" fill="#2a2a2a" font-size="7.8"  stroke="#2a2a2a" stroke-width="0.12">PBM-mismatched/older donor</text>
<text x="143.60" y="645.10" text-anchor="middle" fill="#2a2a2a" font-size="8.3" stroke="#2a2a2a" stroke-width="0.1">339</text>
<text x="188.80" y="645.10" text-anchor="middle" fill="#2a2a2a" font-size="8.3" stroke="#2a2a2a" stroke-width="0.1">216</text>
<text x="234.00" y="645.10" text-anchor="middle" fill="#2a2a2a" font-size="8.3" stroke="#2a2a2a" stroke-width="0.1">155</text>
<text x="279.20" y="645.10" text-anchor="middle" fill="#2a2a2a" font-size="8.3" stroke="#2a2a2a" stroke-width="0.1">131</text>
<text x="324.40" y="645.10" text-anchor="middle" fill="#2a2a2a" font-size="8.3" stroke="#2a2a2a" stroke-width="0.1">109</text>
<text x="369.60" y="645.10" text-anchor="middle" fill="#2a2a2a" font-size="8.3" stroke="#2a2a2a" stroke-width="0.1">97</text>
<text x="414.80" y="645.10" text-anchor="middle" fill="#2a2a2a" font-size="8.3" stroke="#2a2a2a" stroke-width="0.1">89</text>
<text x="460.00" y="645.10" text-anchor="middle" fill="#2a2a2a" font-size="8.3" stroke="#2a2a2a" stroke-width="0.1">78</text>
<text x="505.20" y="645.10" text-anchor="middle" fill="#2a2a2a" font-size="8.3" stroke="#2a2a2a" stroke-width="0.1">66</text>
<path d="M143.5,27.79 L144.5,28.29 L145.5,28.90 L146.5,29.62 L147.5,30.44 L148.5,31.35 L149.5,32.36 L150.5,33.44 L151.5,34.60 L152.5,35.83 L153.5,37.12 L154.5,38.47 L155.5,39.86 L156.5,41.30 L157.5,42.78 L158.5,44.28 L159.5,45.81 L160.5,47.36 L161.5,48.92 L162.5,50.48 L163.5,52.04 L164.5,53.59 L165.5,55.13 L166.5,56.64 L167.5,58.14 L168.5,59.61 L169.5,61.06 L170.5,62.49 L171.5,63.89 L172.5,65.27 L173.5,66.64 L174.5,67.98 L175.5,69.30 L176.5,70.59 L177.5,71.87 L178.5,73.13 L179.5,74.36 L180.5,75.58 L181.5,76.77 L182.5,77.95 L183.5,79.10 L184.5,80.23 L185.5,81.35 L186.5,82.44 L187.5,83.52 L188.5,84.57 L189.5,85.61 L190.5,86.62 L191.5,87.62 L192.5,88.60 L193.5,89.56 L194.5,90.50 L195.5,91.43 L196.5,92.33 L197.5,93.22 L198.5,94.09 L199.5,94.94 L200.5,95.77 L201.5,96.59 L202.5,97.39 L203.5,98.17 L204.5,98.94 L205.5,99.68 L206.5,100.41 L207.5,101.13 L208.5,101.83 L209.5,102.51 L210.5,103.18 L211.5,103.83 L212.5,104.47 L213.5,105.09 L214.5,105.70 L215.5,106.29 L216.5,106.87 L217.5,107.44 L218.5,107.99 L219.5,108.53 L220.5,109.06 L221.5,109.57 L222.5,110.08 L223.5,110.57 L224.5,111.05 L225.5,111.52 L226.5,111.97 L227.5,112.42 L228.5,112.86 L229.5,113.29 L230.5,113.70 L231.5,114.11 L232.5,114.51 L233.5,114.90 L234.5,115.28 L235.5,115.66 L236.5,116.02 L237.5,116.38 L238.5,116.73 L239.5,117.07 L240.5,117.41 L241.5,117.74 L242.5,118.06 L243.5,118.38 L244.5,118.70 L245.5,119.00 L246.5,119.30 L247.5,119.60 L248.5,119.90 L249.5,120.18 L250.5,120.47 L251.5,120.75 L252.5,121.03 L253.5,121.30 L254.5,121.58 L255.5,121.85 L256.5,122.11 L257.5,122.38 L258.5,122.64 L259.5,122.91 L260.5,123.16 L261.5,123.42 L262.5,123.68 L263.5,123.93 L264.5,124.18 L265.5,124.43 L266.5,124.67 L267.5,124.92 L268.5,125.16 L269.5,125.40 L270.5,125.64 L271.5,125.88 L272.5,126.11 L273.5,126.34 L274.5,126.57 L275.5,126.80 L276.5,127.03 L277.5,127.25 L278.5,127.47 L279.5,127.69 L280.5,127.91 L281.5,128.13 L282.5,128.35 L283.5,128.56 L284.5,128.77 L285.5,128.98 L286.5,129.19 L287.5,129.39 L288.5,129.60 L289.5,129.80 L290.5,130.00 L291.5,130.20 L292.5,130.40 L293.5,130.59 L294.5,130.79 L295.5,130.98 L296.5,131.17 L297.5,131.36 L298.5,131.55 L299.5,131.73 L300.5,131.92 L301.5,132.10 L302.5,132.28 L303.5,132.46 L304.5,132.64 L305.5,132.81 L306.5,132.99 L307.5,133.16 L308.5,133.33 L309.5,133.50 L310.5,133.67 L311.5,133.84 L312.5,134.01 L313.5,134.17 L314.5,134.34 L315.5,134.50 L316.5,134.66 L317.5,134.82 L318.5,134.98 L319.5,135.13 L320.5,135.29 L321.5,135.44 L322.5,135.60 L323.5,135.75 L324.5,135.90 L325.5,136.05 L326.5,136.20 L327.5,136.34 L328.5,136.49 L329.5,136.63 L330.5,136.78 L331.5,136.92 L332.5,137.06 L333.5,137.20 L334.5,137.34 L335.5,137.48 L336.5,137.61 L337.5,137.75 L338.5,137.88 L339.5,138.01 L340.5,138.15 L341.5,138.28 L342.5,138.41 L343.5,138.54 L344.5,138.66 L345.5,138.79 L346.5,138.92 L347.5,139.04 L348.5,139.16 L349.5,139.29 L350.5,139.41 L351.5,139.53 L352.5,139.65 L353.5,139.77 L354.5,139.89 L355.5,140.00 L356.5,140.12 L357.5,140.23 L358.5,140.35 L359.5,140.46 L360.5,140.57 L361.5,140.68 L362.5,140.79 L363.5,140.90 L364.5,141.01 L365.5,141.12 L366.5,141.23 L367.5,141.33 L368.5,141.44 L369.5,141.54 L370.5,141.65 L371.5,141.75 L372.5,141.85 L373.5,141.95 L374.5,142.05 L375.5,142.15 L376.5,142.25 L377.5,142.35 L378.5,142.45 L379.5,142.54 L380.5,142.64 L381.5,142.74 L382.5,142.83 L383.5,142.92 L384.5,143.02 L385.5,143.11 L386.5,143.20 L387.5,143.29 L388.5,143.38 L389.5,143.47 L390.5,143.56 L391.5,143.65 L392.5,143.74 L393.5,143.83 L394.5,143.91 L395.5,144.00 L396.5,144.09 L397.5,144.17 L398.5,144.26 L399.5,144.34 L400.5,144.42 L401.5,144.51 L402.5,144.59 L403.5,144.67 L404.5,144.75 L405.5,144.83 L406.5,144.91 L407.5,144.99 L408.5,145.07 L409.5,145.15 L410.5,145.23 L411.5,145.31 L412.5,145.38 L413.5,145.46 L414.5,145.54 L415.5,145.61 L416.5,145.69 L417.5,145.77 L418.5,145.84 L419.5,145.92 L420.5,145.99 L421.5,146.07 L422.5,146.14 L423.5,146.21 L424.5,146.29 L425.5,146.36 L426.5,146.43 L427.5,146.50 L428.5,146.58 L429.5,146.65 L430.5,146.72 L431.5,146.79 L432.5,146.86 L433.5,146.93 L434.5,147.00 L435.5,147.07 L436.5,147.14 L437.5,147.21 L438.5,147.28 L439.5,147.35 L440.5,147.42 L441.5,147.49 L442.5,147.56 L443.5,147.63 L444.5,147.69 L445.5,147.76 L446.5,147.83 L447.5,147.90 L448.5,147.97 L449.5,148.04 L450.5,148.10 L451.5,148.17 L452.5,148.24 L453.5,148.31 L454.5,148.37 L455.5,148.44 L456.5,148.51 L457.5,148.58 L458.5,148.64 L459.5,148.71 L460.5,148.78 L461.5,148.85 L462.5,148.91 L463.5,148.98 L464.5,149.05 L465.5,149.12 L466.5,149.18 L467.5,149.25 L468.5,149.32 L469.5,149.39 L470.5,149.46 L471.5,149.52 L472.5,149.59 L473.5,149.66 L474.5,149.73 L475.5,149.80 L476.5,149.87 L477.5,149.94 L478.5,150.01 L479.5,150.07 L480.5,150.14 L481.5,150.21 L482.5,150.28 L483.5,150.35 L484.5,150.42 L485.5,150.49 L486.5,150.57 L487.5,150.64 L488.5,150.71 L489.5,150.78 L490.5,150.85 L491.5,150.92 L492.5,151.00 L493.5,151.07 L494.5,151.14 L495.5,151.21 L496.5,151.29 L497.5,151.36 L498.5,151.44 L499.5,151.51 L500.5,151.59 L501.5,151.66 L502.5,151.74 L503.5,151.81 L504.5,151.89" fill="none" stroke="#b8203f" stroke-width="1.3" stroke-linejoin="round" />
<path d="M143.5,27.79 L144.5,28.44 L145.5,29.14 L146.5,29.88 L147.5,30.67 L148.5,31.50 L149.5,32.36 L150.5,33.27 L151.5,34.21 L152.5,35.18 L153.5,36.18 L154.5,37.21 L155.5,38.26 L156.5,39.34 L157.5,40.44 L158.5,41.56 L159.5,42.69 L160.5,43.83 L161.5,44.99 L162.5,46.15 L163.5,47.33 L164.5,48.50 L165.5,49.68 L166.5,50.86 L167.5,52.03 L168.5,53.20 L169.5,54.36 L170.5,55.51 L171.5,56.65 L172.5,57.78 L173.5,58.90 L174.5,60.00 L175.5,61.09 L176.5,62.17 L177.5,63.24 L178.5,64.29 L179.5,65.33 L180.5,66.36 L181.5,67.37 L182.5,68.37 L183.5,69.35 L184.5,70.32 L185.5,71.27 L186.5,72.21 L187.5,73.13 L188.5,74.04 L189.5,74.93 L190.5,75.80 L191.5,76.66 L192.5,77.50 L193.5,78.32 L194.5,79.13 L195.5,79.92 L196.5,80.70 L197.5,81.46 L198.5,82.20 L199.5,82.93 L200.5,83.65 L201.5,84.35 L202.5,85.04 L203.5,85.72 L204.5,86.38 L205.5,87.02 L206.5,87.66 L207.5,88.28 L208.5,88.89 L209.5,89.48 L210.5,90.07 L211.5,90.64 L212.5,91.20 L213.5,91.74 L214.5,92.28 L215.5,92.80 L216.5,93.32 L217.5,93.82 L218.5,94.31 L219.5,94.80 L220.5,95.27 L221.5,95.73 L222.5,96.19 L223.5,96.63 L224.5,97.06 L225.5,97.49 L226.5,97.91 L227.5,98.31 L228.5,98.71 L229.5,99.11 L230.5,99.49 L231.5,99.87 L232.5,100.24 L233.5,100.60 L234.5,100.95 L235.5,101.30 L236.5,101.65 L237.5,101.98 L238.5,102.31 L239.5,102.64 L240.5,102.95 L241.5,103.27 L242.5,103.58 L243.5,103.88 L244.5,104.18 L245.5,104.47 L246.5,104.76 L247.5,105.05 L248.5,105.33 L249.5,105.61 L250.5,105.89 L251.5,106.16 L252.5,106.43 L253.5,106.70 L254.5,106.96 L255.5,107.23 L256.5,107.49 L257.5,107.75 L258.5,108.00 L259.5,108.26 L260.5,108.51 L261.5,108.76 L262.5,109.01 L263.5,109.26 L264.5,109.51 L265.5,109.75 L266.5,109.99 L267.5,110.23 L268.5,110.47 L269.5,110.71 L270.5,110.94 L271.5,111.17 L272.5,111.40 L273.5,111.63 L274.5,111.86 L275.5,112.08 L276.5,112.31 L277.5,112.53 L278.5,112.75 L279.5,112.96 L280.5,113.18 L281.5,113.39 L282.5,113.61 L283.5,113.82 L284.5,114.03 L285.5,114.23 L286.5,114.44 L287.5,114.64 L288.5,114.85 L289.5,115.05 L290.5,115.25 L291.5,115.44 L292.5,115.64 L293.5,115.83 L294.5,116.03 L295.5,116.22 L296.5,116.41 L297.5,116.60 L298.5,116.78 L299.5,116.97 L300.5,117.15 L301.5,117.33 L302.5,117.51 L303.5,117.69 L304.5,117.87 L305.5,118.04 L306.5,118.22 L307.5,118.39 L308.5,118.56 L309.5,118.73 L310.5,118.90 L311.5,119.07 L312.5,119.23 L313.5,119.40 L314.5,119.56 L315.5,119.72 L316.5,119.88 L317.5,120.04 L318.5,120.20 L319.5,120.35 L320.5,120.51 L321.5,120.66 L322.5,120.81 L323.5,120.96 L324.5,121.11 L325.5,121.26 L326.5,121.41 L327.5,121.55 L328.5,121.70 L329.5,121.84 L330.5,121.98 L331.5,122.12 L332.5,122.26 L333.5,122.40 L334.5,122.54 L335.5,122.67 L336.5,122.81 L337.5,122.94 L338.5,123.07 L339.5,123.20 L340.5,123.33 L341.5,123.46 L342.5,123.59 L343.5,123.72 L344.5,123.84 L345.5,123.97 L346.5,124.09 L347.5,124.21 L348.5,124.33 L349.5,124.46 L350.5,124.57 L351.5,124.69 L352.5,124.81 L353.5,124.93 L354.5,125.04 L355.5,125.16 L356.5,125.27 L357.5,125.38 L358.5,125.49 L359.5,125.61 L360.5,125.72 L361.5,125.82 L362.5,125.93 L363.5,126.04 L364.5,126.15 L365.5,126.25 L366.5,126.36 L367.5,126.46 L368.5,126.56 L369.5,126.66 L370.5,126.77 L371.5,126.87 L372.5,126.97 L373.5,127.06 L374.5,127.16 L375.5,127.26 L376.5,127.36 L377.5,127.45 L378.5,127.55 L379.5,127.64 L380.5,127.74 L381.5,127.83 L382.5,127.92 L383.5,128.01 L384.5,128.10 L385.5,128.19 L386.5,128.28 L387.5,128.37 L388.5,128.46 L389.5,128.55 L390.5,128.64 L391.5,128.72 L392.5,128.81 L393.5,128.90 L394.5,128.98 L395.5,129.07 L396.5,129.15 L397.5,129.23 L398.5,129.32 L399.5,129.40 L400.5,129.48 L401.5,129.56 L402.5,129.64 L403.5,129.72 L404.5,129.80 L405.5,129.88 L406.5,129.96 L407.5,130.04 L408.5,130.12 L409.5,130.20 L410.5,130.28 L411.5,130.35 L412.5,130.43 L413.5,130.51 L414.5,130.58 L415.5,130.66 L416.5,130.73 L417.5,130.81 L418.5,130.88 L419.5,130.96 L420.5,131.03 L421.5,131.11 L422.5,131.18 L423.5,131.25 L424.5,131.33 L425.5,131.40 L426.5,131.47 L427.5,131.55 L428.5,131.62 L429.5,131.69 L430.5,131.76 L431.5,131.83 L432.5,131.91 L433.5,131.98 L434.5,132.05 L435.5,132.12 L436.5,132.19 L437.5,132.26 L438.5,132.33 L439.5,132.40 L440.5,132.48 L441.5,132.55 L442.5,132.62 L443.5,132.69 L444.5,132.76 L445.5,132.83 L446.5,132.90 L447.5,132.97 L448.5,133.04 L449.5,133.11 L450.5,133.18 L451.5,133.25 L452.5,133.32 L453.5,133.39 L454.5,133.47 L455.5,133.54 L456.5,133.61 L457.5,133.68 L458.5,133.75 L459.5,133.82 L460.5,133.89 L461.5,133.97 L462.5,134.04 L463.5,134.11 L464.5,134.18 L465.5,134.25 L466.5,134.33 L467.5,134.40 L468.5,134.47 L469.5,134.55 L470.5,134.62 L471.5,134.69 L472.5,134.77 L473.5,134.84 L474.5,134.92 L475.5,134.99 L476.5,135.07 L477.5,135.14 L478.5,135.22 L479.5,135.30 L480.5,135.37 L481.5,135.45 L482.5,135.53 L483.5,135.60 L484.5,135.68 L485.5,135.76 L486.5,135.84 L487.5,135.92 L488.5,136.00 L489.5,136.08 L490.5,136.16 L491.5,136.24 L492.5,136.32 L493.5,136.41 L494.5,136.49 L495.5,136.57 L496.5,136.66 L497.5,136.74 L498.5,136.82 L499.5,136.91 L500.5,137.00 L501.5,137.08 L502.5,137.17 L503.5,137.26 L504.5,137.34" fill="none" stroke="#eca52e" stroke-width="1.3" stroke-linejoin="round" />
<path d="M143.5,27.79 L144.5,28.49 L145.5,29.21 L146.5,29.95 L147.5,30.72 L148.5,31.51 L149.5,32.32 L150.5,33.16 L151.5,34.01 L152.5,34.88 L153.5,35.78 L154.5,36.68 L155.5,37.61 L156.5,38.55 L157.5,39.50 L158.5,40.47 L159.5,41.45 L160.5,42.44 L161.5,43.44 L162.5,44.45 L163.5,45.47 L164.5,46.50 L165.5,47.53 L166.5,48.57 L167.5,49.61 L168.5,50.66 L169.5,51.71 L170.5,52.76 L171.5,53.81 L172.5,54.87 L173.5,55.92 L174.5,56.97 L175.5,58.01 L176.5,59.05 L177.5,60.09 L178.5,61.12 L179.5,62.14 L180.5,63.16 L181.5,64.17 L182.5,65.16 L183.5,66.15 L184.5,67.12 L185.5,68.08 L186.5,69.03 L187.5,69.97 L188.5,70.88 L189.5,71.78 L190.5,72.67 L191.5,73.53 L192.5,74.38 L193.5,75.21 L194.5,76.02 L195.5,76.82 L196.5,77.60 L197.5,78.36 L198.5,79.11 L199.5,79.84 L200.5,80.56 L201.5,81.26 L202.5,81.94 L203.5,82.61 L204.5,83.27 L205.5,83.91 L206.5,84.54 L207.5,85.15 L208.5,85.75 L209.5,86.34 L210.5,86.91 L211.5,87.47 L212.5,88.02 L213.5,88.55 L214.5,89.08 L215.5,89.59 L216.5,90.09 L217.5,90.58 L218.5,91.05 L219.5,91.52 L220.5,91.97 L221.5,92.42 L222.5,92.86 L223.5,93.28 L224.5,93.70 L225.5,94.10 L226.5,94.50 L227.5,94.89 L228.5,95.27 L229.5,95.64 L230.5,96.01 L231.5,96.36 L232.5,96.71 L233.5,97.05 L234.5,97.39 L235.5,97.71 L236.5,98.03 L237.5,98.35 L238.5,98.66 L239.5,98.96 L240.5,99.26 L241.5,99.55 L242.5,99.84 L243.5,100.12 L244.5,100.40 L245.5,100.67 L246.5,100.94 L247.5,101.20 L248.5,101.47 L249.5,101.72 L250.5,101.98 L251.5,102.23 L252.5,102.48 L253.5,102.73 L254.5,102.98 L255.5,103.22 L256.5,103.47 L257.5,103.71 L258.5,103.95 L259.5,104.18 L260.5,104.42 L261.5,104.66 L262.5,104.89 L263.5,105.12 L264.5,105.35 L265.5,105.58 L266.5,105.81 L267.5,106.03 L268.5,106.26 L269.5,106.48 L270.5,106.70 L271.5,106.92 L272.5,107.14 L273.5,107.35 L274.5,107.57 L275.5,107.78 L276.5,107.99 L277.5,108.20 L278.5,108.41 L279.5,108.62 L280.5,108.83 L281.5,109.03 L282.5,109.24 L283.5,109.44 L284.5,109.64 L285.5,109.84 L286.5,110.03 L287.5,110.23 L288.5,110.43 L289.5,110.62 L290.5,110.81 L291.5,111.00 L292.5,111.19 L293.5,111.38 L294.5,111.57 L295.5,111.75 L296.5,111.94 L297.5,112.12 L298.5,112.30 L299.5,112.48 L300.5,112.66 L301.5,112.84 L302.5,113.02 L303.5,113.19 L304.5,113.37 L305.5,113.54 L306.5,113.71 L307.5,113.88 L308.5,114.05 L309.5,114.22 L310.5,114.38 L311.5,114.55 L312.5,114.71 L313.5,114.88 L314.5,115.04 L315.5,115.20 L316.5,115.36 L317.5,115.52 L318.5,115.67 L319.5,115.83 L320.5,115.98 L321.5,116.14 L322.5,116.29 L323.5,116.44 L324.5,116.59 L325.5,116.74 L326.5,116.89 L327.5,117.04 L328.5,117.18 L329.5,117.33 L330.5,117.47 L331.5,117.62 L332.5,117.76 L333.5,117.90 L334.5,118.04 L335.5,118.18 L336.5,118.31 L337.5,118.45 L338.5,118.59 L339.5,118.72 L340.5,118.86 L341.5,118.99 L342.5,119.12 L343.5,119.25 L344.5,119.38 L345.5,119.51 L346.5,119.64 L347.5,119.77 L348.5,119.89 L349.5,120.02 L350.5,120.14 L351.5,120.26 L352.5,120.39 L353.5,120.51 L354.5,120.63 L355.5,120.75 L356.5,120.87 L357.5,120.99 L358.5,121.10 L359.5,121.22 L360.5,121.34 L361.5,121.45 L362.5,121.56 L363.5,121.68 L364.5,121.79 L365.5,121.90 L366.5,122.01 L367.5,122.12 L368.5,122.23 L369.5,122.34 L370.5,122.45 L371.5,122.55 L372.5,122.66 L373.5,122.77 L374.5,122.87 L375.5,122.97 L376.5,123.08 L377.5,123.18 L378.5,123.28 L379.5,123.38 L380.5,123.48 L381.5,123.58 L382.5,123.68 L383.5,123.78 L384.5,123.88 L385.5,123.97 L386.5,124.07 L387.5,124.17 L388.5,124.26 L389.5,124.36 L390.5,124.45 L391.5,124.54 L392.5,124.64 L393.5,124.73 L394.5,124.82 L395.5,124.91 L396.5,125.00 L397.5,125.09 L398.5,125.18 L399.5,125.27 L400.5,125.36 L401.5,125.45 L402.5,125.53 L403.5,125.62 L404.5,125.71 L405.5,125.79 L406.5,125.88 L407.5,125.96 L408.5,126.05 L409.5,126.13 L410.5,126.21 L411.5,126.30 L412.5,126.38 L413.5,126.46 L414.5,126.54 L415.5,126.62 L416.5,126.70 L417.5,126.78 L418.5,126.86 L419.5,126.94 L420.5,127.02 L421.5,127.10 L422.5,127.18 L423.5,127.26 L424.5,127.34 L425.5,127.41 L426.5,127.49 L427.5,127.57 L428.5,127.64 L429.5,127.72 L430.5,127.79 L431.5,127.87 L432.5,127.94 L433.5,128.02 L434.5,128.09 L435.5,128.17 L436.5,128.24 L437.5,128.32 L438.5,128.39 L439.5,128.46 L440.5,128.53 L441.5,128.61 L442.5,128.68 L443.5,128.75 L444.5,128.82 L445.5,128.90 L446.5,128.97 L447.5,129.04 L448.5,129.11 L449.5,129.18 L450.5,129.25 L451.5,129.32 L452.5,129.39 L453.5,129.46 L454.5,129.54 L455.5,129.61 L456.5,129.68 L457.5,129.75 L458.5,129.82 L459.5,129.89 L460.5,129.96 L461.5,130.02 L462.5,130.09 L463.5,130.16 L464.5,130.23 L465.5,130.30 L466.5,130.37 L467.5,130.44 L468.5,130.51 L469.5,130.58 L470.5,130.65 L471.5,130.72 L472.5,130.79 L473.5,130.86 L474.5,130.93 L475.5,131.00 L476.5,131.07 L477.5,131.14 L478.5,131.20 L479.5,131.27 L480.5,131.34 L481.5,131.41 L482.5,131.48 L483.5,131.55 L484.5,131.62 L485.5,131.69 L486.5,131.76 L487.5,131.83 L488.5,131.90 L489.5,131.97 L490.5,132.04 L491.5,132.12 L492.5,132.19 L493.5,132.26 L494.5,132.33 L495.5,132.40 L496.5,132.47 L497.5,132.54 L498.5,132.62 L499.5,132.69 L500.5,132.76 L501.5,132.83 L502.5,132.91 L503.5,132.98 L504.5,133.05" fill="none" stroke="#41a9dc" stroke-width="1.3" stroke-linejoin="round" />
<defs><linearGradient id="gfade" gradientUnits="userSpaceOnUse" x1="160" y1="0" x2="250" y2="0"><stop offset="0" stop-color="#4a8a40" stop-opacity="1"/><stop offset="1" stop-color="#4a8a40" stop-opacity="0"/></linearGradient></defs>
<path d="M143.5,27.79 L144.5,28.29 L145.5,28.84 L146.5,29.43 L147.5,30.06 L148.5,30.73 L149.5,31.43 L150.5,32.17 L151.5,32.94 L152.5,33.74 L153.5,34.56 L154.5,35.41 L155.5,36.28 L156.5,37.17 L157.5,38.08 L158.5,39.00 L159.5,39.94 L160.5,40.88 L161.5,41.84 L162.5,42.80 L163.5,43.76 L164.5,44.73 L165.5,45.69 L166.5,46.65 L167.5,47.60 L168.5,48.54 L169.5,49.48 L170.5,50.40 L171.5,51.30 L172.5,52.20 L173.5,53.08 L174.5,53.94 L175.5,54.79 L176.5,55.63 L177.5,56.46 L178.5,57.27 L179.5,58.07 L180.5,58.86 L181.5,59.63 L182.5,60.39 L183.5,61.14 L184.5,61.88 L185.5,62.61 L186.5,63.33 L187.5,64.03 L188.5,64.72 L189.5,65.40 L190.5,66.08 L191.5,66.74 L192.5,67.39 L193.5,68.03 L194.5,68.65 L195.5,69.27 L196.5,69.88 L197.5,70.48 L198.5,71.07 L199.5,71.66 L200.5,72.23 L201.5,72.79 L202.5,73.35 L203.5,73.89 L204.5,74.43 L205.5,74.96 L206.5,75.48 L207.5,75.99 L208.5,76.50 L209.5,76.99 L210.5,77.48 L211.5,77.97 L212.5,78.44 L213.5,78.91 L214.5,79.38 L215.5,79.83 L216.5,80.28 L217.5,80.73 L218.5,81.16 L219.5,81.59 L220.5,82.02 L221.5,82.44 L222.5,82.86 L223.5,83.27 L224.5,83.67 L225.5,84.07 L226.5,84.47 L227.5,84.86 L228.5,85.24 L229.5,85.63 L230.5,86.00 L231.5,86.38 L232.5,86.74 L233.5,87.11 L234.5,87.47 L235.5,87.82 L236.5,88.17 L237.5,88.52 L238.5,88.86 L239.5,89.20 L240.5,89.53 L241.5,89.86 L242.5,90.19 L243.5,90.51 L244.5,90.83 L245.5,91.14 L246.5,91.45 L247.5,91.75 L248.5,92.06 L249.5,92.35 L250.5,92.65 L251.5,92.94 L252.5,93.22 L253.5,93.51 L254.5,93.78 L255.5,94.06 L256.5,94.33 L257.5,94.60 L258.5,94.86 L259.5,95.12 L260.5,95.38 L261.5,95.64 L262.5,95.89 L263.5,96.13 L264.5,96.38 L265.5,96.62 L266.5,96.86 L267.5,97.09 L268.5,97.32 L269.5,97.55 L270.5,97.78 L271.5,98.00 L272.5,98.22 L273.5,98.43 L274.5,98.65 L275.5,98.86 L276.5,99.06 L277.5,99.27 L278.5,99.47 L279.5,99.67 L280.5,99.87 L281.5,100.06 L282.5,100.25 L283.5,100.44 L284.5,100.62 L285.5,100.81 L286.5,100.99 L287.5,101.16 L288.5,101.34 L289.5,101.51 L290.5,101.68 L291.5,101.85 L292.5,102.02 L293.5,102.18 L294.5,102.35 L295.5,102.50 L296.5,102.66 L297.5,102.82 L298.5,102.97 L299.5,103.12 L300.5,103.27 L301.5,103.42 L302.5,103.56 L303.5,103.71 L304.5,103.85 L305.5,103.99 L306.5,104.13 L307.5,104.26 L308.5,104.40 L309.5,104.53 L310.5,104.66 L311.5,104.79 L312.5,104.92 L313.5,105.05 L314.5,105.17 L315.5,105.30 L316.5,105.42 L317.5,105.54 L318.5,105.66 L319.5,105.78 L320.5,105.89 L321.5,106.01 L322.5,106.12 L323.5,106.24 L324.5,106.35 L325.5,106.46 L326.5,106.57 L327.5,106.68 L328.5,106.79 L329.5,106.90 L330.5,107.00 L331.5,107.11 L332.5,107.21 L333.5,107.32 L334.5,107.42 L335.5,107.52 L336.5,107.62 L337.5,107.72 L338.5,107.82 L339.5,107.92 L340.5,108.02 L341.5,108.12 L342.5,108.22 L343.5,108.32 L344.5,108.42 L345.5,108.51 L346.5,108.61 L347.5,108.71 L348.5,108.80 L349.5,108.90 L350.5,108.99 L351.5,109.09 L352.5,109.19 L353.5,109.28 L354.5,109.38 L355.5,109.47 L356.5,109.57 L357.5,109.66 L358.5,109.76 L359.5,109.85 L360.5,109.95 L361.5,110.05 L362.5,110.14 L363.5,110.24 L364.5,110.34 L365.5,110.43 L366.5,110.53 L367.5,110.63 L368.5,110.73 L369.5,110.82 L370.5,110.92 L371.5,111.02 L372.5,111.12 L373.5,111.22 L374.5,111.31 L375.5,111.41 L376.5,111.51 L377.5,111.61 L378.5,111.71 L379.5,111.81 L380.5,111.90 L381.5,112.00 L382.5,112.10 L383.5,112.20 L384.5,112.30 L385.5,112.40 L386.5,112.49 L387.5,112.59 L388.5,112.69 L389.5,112.79 L390.5,112.89 L391.5,112.99 L392.5,113.08 L393.5,113.18 L394.5,113.28 L395.5,113.38 L396.5,113.47 L397.5,113.57 L398.5,113.67 L399.5,113.77 L400.5,113.86 L401.5,113.96 L402.5,114.06 L403.5,114.15 L404.5,114.25 L405.5,114.34 L406.5,114.44 L407.5,114.54 L408.5,114.63 L409.5,114.73 L410.5,114.82 L411.5,114.92 L412.5,115.01 L413.5,115.10 L414.5,115.20 L415.5,115.29 L416.5,115.38 L417.5,115.48 L418.5,115.57 L419.5,115.66 L420.5,115.75 L421.5,115.84 L422.5,115.93 L423.5,116.02 L424.5,116.11 L425.5,116.20 L426.5,116.29 L427.5,116.38 L428.5,116.47 L429.5,116.56 L430.5,116.65 L431.5,116.73 L432.5,116.82 L433.5,116.91 L434.5,116.99 L435.5,117.08 L436.5,117.16 L437.5,117.25 L438.5,117.33 L439.5,117.41 L440.5,117.50 L441.5,117.58 L442.5,117.66 L443.5,117.74 L444.5,117.82 L445.5,117.90 L446.5,117.98 L447.5,118.06 L448.5,118.14 L449.5,118.21 L450.5,118.29 L451.5,118.37 L452.5,118.44 L453.5,118.52 L454.5,118.59 L455.5,118.66 L456.5,118.74 L457.5,118.81 L458.5,118.88 L459.5,118.95 L460.5,119.02 L461.5,119.09 L462.5,119.16 L463.5,119.22 L464.5,119.29 L465.5,119.36 L466.5,119.42 L467.5,119.49 L468.5,119.55 L469.5,119.61 L470.5,119.68 L471.5,119.74 L472.5,119.80 L473.5,119.86 L474.5,119.92 L475.5,119.97 L476.5,120.03 L477.5,120.09 L478.5,120.14 L479.5,120.19 L480.5,120.25 L481.5,120.30 L482.5,120.35 L483.5,120.40 L484.5,120.45 L485.5,120.50 L486.5,120.55 L487.5,120.59 L488.5,120.64 L489.5,120.68 L490.5,120.73 L491.5,120.77 L492.5,120.81 L493.5,120.85 L494.5,120.89 L495.5,120.93 L496.5,120.97 L497.5,121.00 L498.5,121.04 L499.5,121.07 L500.5,121.11 L501.5,121.14 L502.5,121.17 L503.5,121.20 L504.5,121.23" fill="none" stroke="#d3d9cf" stroke-width="3.6" stroke-linejoin="round" />
<path d="M143.5,27.79 L144.5,28.29 L145.5,28.84 L146.5,29.43 L147.5,30.06 L148.5,30.73 L149.5,31.43 L150.5,32.17 L151.5,32.94 L152.5,33.74 L153.5,34.56 L154.5,35.41 L155.5,36.28 L156.5,37.17 L157.5,38.08 L158.5,39.00 L159.5,39.94 L160.5,40.88 L161.5,41.84 L162.5,42.80 L163.5,43.76 L164.5,44.73 L165.5,45.69 L166.5,46.65 L167.5,47.60 L168.5,48.54 L169.5,49.48 L170.5,50.40 L171.5,51.30 L172.5,52.20 L173.5,53.08 L174.5,53.94 L175.5,54.79 L176.5,55.63 L177.5,56.46 L178.5,57.27 L179.5,58.07 L180.5,58.86 L181.5,59.63 L182.5,60.39 L183.5,61.14 L184.5,61.88 L185.5,62.61 L186.5,63.33 L187.5,64.03 L188.5,64.72 L189.5,65.40 L190.5,66.08 L191.5,66.74 L192.5,67.39 L193.5,68.03 L194.5,68.65 L195.5,69.27 L196.5,69.88 L197.5,70.48 L198.5,71.07 L199.5,71.66 L200.5,72.23 L201.5,72.79 L202.5,73.35 L203.5,73.89 L204.5,74.43 L205.5,74.96 L206.5,75.48 L207.5,75.99 L208.5,76.50 L209.5,76.99 L210.5,77.48 L211.5,77.97 L212.5,78.44 L213.5,78.91 L214.5,79.38 L215.5,79.83 L216.5,80.28 L217.5,80.73 L218.5,81.16 L219.5,81.59 L220.5,82.02 L221.5,82.44 L222.5,82.86 L223.5,83.27 L224.5,83.67 L225.5,84.07 L226.5,84.47 L227.5,84.86 L228.5,85.24 L229.5,85.63 L230.5,86.00 L231.5,86.38 L232.5,86.74 L233.5,87.11 L234.5,87.47 L235.5,87.82 L236.5,88.17 L237.5,88.52 L238.5,88.86 L239.5,89.20 L240.5,89.53 L241.5,89.86 L242.5,90.19 L243.5,90.51 L244.5,90.83 L245.5,91.14 L246.5,91.45 L247.5,91.75 L248.5,92.06 L249.5,92.35 L250.5,92.65 L251.5,92.94 L252.5,93.22 L253.5,93.51 L254.5,93.78 L255.5,94.06 L256.5,94.33 L257.5,94.60 L258.5,94.86 L259.5,95.12 L260.5,95.38 L261.5,95.64 L262.5,95.89 L263.5,96.13 L264.5,96.38 L265.5,96.62 L266.5,96.86 L267.5,97.09 L268.5,97.32 L269.5,97.55 L270.5,97.78 L271.5,98.00 L272.5,98.22 L273.5,98.43 L274.5,98.65 L275.5,98.86 L276.5,99.06 L277.5,99.27 L278.5,99.47 L279.5,99.67 L280.5,99.87 L281.5,100.06 L282.5,100.25 L283.5,100.44 L284.5,100.62 L285.5,100.81 L286.5,100.99 L287.5,101.16 L288.5,101.34 L289.5,101.51 L290.5,101.68 L291.5,101.85 L292.5,102.02 L293.5,102.18 L294.5,102.35 L295.5,102.50 L296.5,102.66 L297.5,102.82 L298.5,102.97 L299.5,103.12 L300.5,103.27 L301.5,103.42 L302.5,103.56 L303.5,103.71 L304.5,103.85 L305.5,103.99 L306.5,104.13 L307.5,104.26 L308.5,104.40 L309.5,104.53 L310.5,104.66 L311.5,104.79 L312.5,104.92 L313.5,105.05 L314.5,105.17 L315.5,105.30 L316.5,105.42 L317.5,105.54 L318.5,105.66 L319.5,105.78 L320.5,105.89 L321.5,106.01 L322.5,106.12 L323.5,106.24 L324.5,106.35 L325.5,106.46 L326.5,106.57 L327.5,106.68 L328.5,106.79 L329.5,106.90 L330.5,107.00 L331.5,107.11 L332.5,107.21 L333.5,107.32 L334.5,107.42 L335.5,107.52 L336.5,107.62 L337.5,107.72 L338.5,107.82 L339.5,107.92 L340.5,108.02 L341.5,108.12 L342.5,108.22 L343.5,108.32 L344.5,108.42 L345.5,108.51 L346.5,108.61 L347.5,108.71 L348.5,108.80 L349.5,108.90 L350.5,108.99 L351.5,109.09 L352.5,109.19 L353.5,109.28 L354.5,109.38 L355.5,109.47 L356.5,109.57 L357.5,109.66 L358.5,109.76 L359.5,109.85 L360.5,109.95 L361.5,110.05 L362.5,110.14 L363.5,110.24 L364.5,110.34 L365.5,110.43 L366.5,110.53 L367.5,110.63 L368.5,110.73 L369.5,110.82 L370.5,110.92 L371.5,111.02 L372.5,111.12 L373.5,111.22 L374.5,111.31 L375.5,111.41 L376.5,111.51 L377.5,111.61 L378.5,111.71 L379.5,111.81 L380.5,111.90 L381.5,112.00 L382.5,112.10 L383.5,112.20 L384.5,112.30 L385.5,112.40 L386.5,112.49 L387.5,112.59 L388.5,112.69 L389.5,112.79 L390.5,112.89 L391.5,112.99 L392.5,113.08 L393.5,113.18 L394.5,113.28 L395.5,113.38 L396.5,113.47 L397.5,113.57 L398.5,113.67 L399.5,113.77 L400.5,113.86 L401.5,113.96 L402.5,114.06 L403.5,114.15 L404.5,114.25 L405.5,114.34 L406.5,114.44 L407.5,114.54 L408.5,114.63 L409.5,114.73 L410.5,114.82 L411.5,114.92 L412.5,115.01 L413.5,115.10 L414.5,115.20 L415.5,115.29 L416.5,115.38 L417.5,115.48 L418.5,115.57 L419.5,115.66 L420.5,115.75 L421.5,115.84 L422.5,115.93 L423.5,116.02 L424.5,116.11 L425.5,116.20 L426.5,116.29 L427.5,116.38 L428.5,116.47 L429.5,116.56 L430.5,116.65 L431.5,116.73 L432.5,116.82 L433.5,116.91 L434.5,116.99 L435.5,117.08 L436.5,117.16 L437.5,117.25 L438.5,117.33 L439.5,117.41 L440.5,117.50 L441.5,117.58 L442.5,117.66 L443.5,117.74 L444.5,117.82 L445.5,117.90 L446.5,117.98 L447.5,118.06 L448.5,118.14 L449.5,118.21 L450.5,118.29 L451.5,118.37 L452.5,118.44 L453.5,118.52 L454.5,118.59 L455.5,118.66 L456.5,118.74 L457.5,118.81 L458.5,118.88 L459.5,118.95 L460.5,119.02 L461.5,119.09 L462.5,119.16 L463.5,119.22 L464.5,119.29 L465.5,119.36 L466.5,119.42 L467.5,119.49 L468.5,119.55 L469.5,119.61 L470.5,119.68 L471.5,119.74 L472.5,119.80 L473.5,119.86 L474.5,119.92 L475.5,119.97 L476.5,120.03 L477.5,120.09 L478.5,120.14 L479.5,120.19 L480.5,120.25 L481.5,120.30 L482.5,120.35 L483.5,120.40 L484.5,120.45 L485.5,120.50 L486.5,120.55 L487.5,120.59 L488.5,120.64 L489.5,120.68 L490.5,120.73 L491.5,120.77 L492.5,120.81 L493.5,120.85 L494.5,120.89 L495.5,120.93 L496.5,120.97 L497.5,121.00 L498.5,121.04 L499.5,121.07 L500.5,121.11 L501.5,121.14 L502.5,121.17 L503.5,121.20 L504.5,121.23" fill="none" stroke="url(#gfade)" stroke-width="2.8" stroke-linejoin="round" />
<path d="M143.5,27.79 L144.5,28.29 L145.5,28.84 L146.5,29.43 L147.5,30.06 L148.5,30.73 L149.5,31.43 L150.5,32.17 L151.5,32.94 L152.5,33.74 L153.5,34.56 L154.5,35.41 L155.5,36.28 L156.5,37.17 L157.5,38.08 L158.5,39.00 L159.5,39.94 L160.5,40.88 L161.5,41.84 L162.5,42.80 L163.5,43.76 L164.5,44.73 L165.5,45.69 L166.5,46.65 L167.5,47.60 L168.5,48.54 L169.5,49.48 L170.5,50.40 L171.5,51.30 L172.5,52.20 L173.5,53.08 L174.5,53.94 L175.5,54.79 L176.5,55.63 L177.5,56.46 L178.5,57.27 L179.5,58.07 L180.5,58.86 L181.5,59.63 L182.5,60.39 L183.5,61.14 L184.5,61.88 L185.5,62.61 L186.5,63.33 L187.5,64.03 L188.5,64.72 L189.5,65.40 L190.5,66.08 L191.5,66.74 L192.5,67.39 L193.5,68.03 L194.5,68.65 L195.5,69.27 L196.5,69.88 L197.5,70.48 L198.5,71.07 L199.5,71.66 L200.5,72.23 L201.5,72.79 L202.5,73.35 L203.5,73.89 L204.5,74.43 L205.5,74.96 L206.5,75.48 L207.5,75.99 L208.5,76.50 L209.5,76.99 L210.5,77.48 L211.5,77.97 L212.5,78.44 L213.5,78.91 L214.5,79.38 L215.5,79.83 L216.5,80.28 L217.5,80.73 L218.5,81.16 L219.5,81.59 L220.5,82.02 L221.5,82.44 L222.5,82.86 L223.5,83.27 L224.5,83.67 L225.5,84.07 L226.5,84.47 L227.5,84.86 L228.5,85.24 L229.5,85.63 L230.5,86.00 L231.5,86.38 L232.5,86.74 L233.5,87.11 L234.5,87.47 L235.5,87.82 L236.5,88.17 L237.5,88.52 L238.5,88.86 L239.5,89.20 L240.5,89.53 L241.5,89.86 L242.5,90.19 L243.5,90.51 L244.5,90.83 L245.5,91.14 L246.5,91.45 L247.5,91.75 L248.5,92.06 L249.5,92.35 L250.5,92.65 L251.5,92.94 L252.5,93.22 L253.5,93.51 L254.5,93.78 L255.5,94.06 L256.5,94.33 L257.5,94.60 L258.5,94.86 L259.5,95.12 L260.5,95.38 L261.5,95.64 L262.5,95.89 L263.5,96.13 L264.5,96.38 L265.5,96.62 L266.5,96.86 L267.5,97.09 L268.5,97.32 L269.5,97.55 L270.5,97.78 L271.5,98.00 L272.5,98.22 L273.5,98.43 L274.5,98.65 L275.5,98.86 L276.5,99.06 L277.5,99.27 L278.5,99.47 L279.5,99.67 L280.5,99.87 L281.5,100.06 L282.5,100.25 L283.5,100.44 L284.5,100.62 L285.5,100.81 L286.5,100.99 L287.5,101.16 L288.5,101.34 L289.5,101.51 L290.5,101.68 L291.5,101.85 L292.5,102.02 L293.5,102.18 L294.5,102.35 L295.5,102.50 L296.5,102.66 L297.5,102.82 L298.5,102.97 L299.5,103.12 L300.5,103.27 L301.5,103.42 L302.5,103.56 L303.5,103.71 L304.5,103.85 L305.5,103.99 L306.5,104.13 L307.5,104.26 L308.5,104.40 L309.5,104.53 L310.5,104.66 L311.5,104.79 L312.5,104.92 L313.5,105.05 L314.5,105.17 L315.5,105.30 L316.5,105.42 L317.5,105.54 L318.5,105.66 L319.5,105.78 L320.5,105.89 L321.5,106.01 L322.5,106.12 L323.5,106.24 L324.5,106.35 L325.5,106.46 L326.5,106.57 L327.5,106.68 L328.5,106.79 L329.5,106.90 L330.5,107.00 L331.5,107.11 L332.5,107.21 L333.5,107.32 L334.5,107.42 L335.5,107.52 L336.5,107.62 L337.5,107.72 L338.5,107.82 L339.5,107.92 L340.5,108.02 L341.5,108.12 L342.5,108.22 L343.5,108.32 L344.5,108.42 L345.5,108.51 L346.5,108.61 L347.5,108.71 L348.5,108.80 L349.5,108.90 L350.5,108.99 L351.5,109.09 L352.5,109.19 L353.5,109.28 L354.5,109.38 L355.5,109.47 L356.5,109.57 L357.5,109.66 L358.5,109.76 L359.5,109.85 L360.5,109.95 L361.5,110.05 L362.5,110.14 L363.5,110.24 L364.5,110.34 L365.5,110.43 L366.5,110.53 L367.5,110.63 L368.5,110.73 L369.5,110.82 L370.5,110.92 L371.5,111.02 L372.5,111.12 L373.5,111.22 L374.5,111.31 L375.5,111.41 L376.5,111.51 L377.5,111.61 L378.5,111.71 L379.5,111.81 L380.5,111.90 L381.5,112.00 L382.5,112.10 L383.5,112.20 L384.5,112.30 L385.5,112.40 L386.5,112.49 L387.5,112.59 L388.5,112.69 L389.5,112.79 L390.5,112.89 L391.5,112.99 L392.5,113.08 L393.5,113.18 L394.5,113.28 L395.5,113.38 L396.5,113.47 L397.5,113.57 L398.5,113.67 L399.5,113.77 L400.5,113.86 L401.5,113.96 L402.5,114.06 L403.5,114.15 L404.5,114.25 L405.5,114.34 L406.5,114.44 L407.5,114.54 L408.5,114.63 L409.5,114.73 L410.5,114.82 L411.5,114.92 L412.5,115.01 L413.5,115.10 L414.5,115.20 L415.5,115.29 L416.5,115.38 L417.5,115.48 L418.5,115.57 L419.5,115.66 L420.5,115.75 L421.5,115.84 L422.5,115.93 L423.5,116.02 L424.5,116.11 L425.5,116.20 L426.5,116.29 L427.5,116.38 L428.5,116.47 L429.5,116.56 L430.5,116.65 L431.5,116.73 L432.5,116.82 L433.5,116.91 L434.5,116.99 L435.5,117.08 L436.5,117.16 L437.5,117.25 L438.5,117.33 L439.5,117.41 L440.5,117.50 L441.5,117.58 L442.5,117.66 L443.5,117.74 L444.5,117.82 L445.5,117.90 L446.5,117.98 L447.5,118.06 L448.5,118.14 L449.5,118.21 L450.5,118.29 L451.5,118.37 L452.5,118.44 L453.5,118.52 L454.5,118.59 L455.5,118.66 L456.5,118.74 L457.5,118.81 L458.5,118.88 L459.5,118.95 L460.5,119.02 L461.5,119.09 L462.5,119.16 L463.5,119.22 L464.5,119.29 L465.5,119.36 L466.5,119.42 L467.5,119.49 L468.5,119.55 L469.5,119.61 L470.5,119.68 L471.5,119.74 L472.5,119.80 L473.5,119.86 L474.5,119.92 L475.5,119.97 L476.5,120.03 L477.5,120.09 L478.5,120.14 L479.5,120.19 L480.5,120.25 L481.5,120.30 L482.5,120.35 L483.5,120.40 L484.5,120.45 L485.5,120.50 L486.5,120.55 L487.5,120.59 L488.5,120.64 L489.5,120.68 L490.5,120.73 L491.5,120.77 L492.5,120.81 L493.5,120.85 L494.5,120.89 L495.5,120.93 L496.5,120.97 L497.5,121.00 L498.5,121.04 L499.5,121.07 L500.5,121.11 L501.5,121.14 L502.5,121.17 L503.5,121.20 L504.5,121.23" fill="none" stroke="#4a8646" stroke-width="1.3" stroke-linejoin="round" />
<path d="M143.5,27.80 L144.5,28.04 L145.5,28.34 L146.5,28.70 L147.5,29.11 L148.5,29.57 L149.5,30.08 L150.5,30.63 L151.5,31.22 L152.5,31.85 L153.5,32.52 L154.5,33.22 L155.5,33.95 L156.5,34.71 L157.5,35.49 L158.5,36.29 L159.5,37.11 L160.5,37.95 L161.5,38.80 L162.5,39.67 L163.5,40.54 L164.5,41.41 L165.5,42.29 L166.5,43.17 L167.5,44.04 L168.5,44.91 L169.5,45.77 L170.5,46.62 L171.5,47.45 L172.5,48.28 L173.5,49.08 L174.5,49.88 L175.5,50.66 L176.5,51.44 L177.5,52.19 L178.5,52.94 L179.5,53.68 L180.5,54.40 L181.5,55.11 L182.5,55.82 L183.5,56.51 L184.5,57.18 L185.5,57.85 L186.5,58.51 L187.5,59.16 L188.5,59.79 L189.5,60.42 L190.5,61.03 L191.5,61.64 L192.5,62.24 L193.5,62.82 L194.5,63.40 L195.5,63.97 L196.5,64.53 L197.5,65.08 L198.5,65.62 L199.5,66.15 L200.5,66.68 L201.5,67.19 L202.5,67.70 L203.5,68.20 L204.5,68.69 L205.5,69.17 L206.5,69.65 L207.5,70.12 L208.5,70.58 L209.5,71.03 L210.5,71.48 L211.5,71.92 L212.5,72.35 L213.5,72.78 L214.5,73.20 L215.5,73.62 L216.5,74.03 L217.5,74.43 L218.5,74.83 L219.5,75.22 L220.5,75.61 L221.5,75.99 L222.5,76.36 L223.5,76.74 L224.5,77.10 L225.5,77.46 L226.5,77.82 L227.5,78.17 L228.5,78.52 L229.5,78.87 L230.5,79.21 L231.5,79.54 L232.5,79.87 L233.5,80.20 L234.5,80.52 L235.5,80.84 L236.5,81.16 L237.5,81.47 L238.5,81.77 L239.5,82.08 L240.5,82.37 L241.5,82.67 L242.5,82.96 L243.5,83.25 L244.5,83.53 L245.5,83.81 L246.5,84.08 L247.5,84.35 L248.5,84.62 L249.5,84.89 L250.5,85.15 L251.5,85.40 L252.5,85.66 L253.5,85.91 L254.5,86.15 L255.5,86.40 L256.5,86.63 L257.5,86.87 L258.5,87.10 L259.5,87.33 L260.5,87.56 L261.5,87.78 L262.5,88.00 L263.5,88.22 L264.5,88.43 L265.5,88.64 L266.5,88.85 L267.5,89.06 L268.5,89.26 L269.5,89.46 L270.5,89.65 L271.5,89.85 L272.5,90.04 L273.5,90.22 L274.5,90.41 L275.5,90.59 L276.5,90.77 L277.5,90.95 L278.5,91.12 L279.5,91.29 L280.5,91.46 L281.5,91.63 L282.5,91.79 L283.5,91.95 L284.5,92.11 L285.5,92.27 L286.5,92.42 L287.5,92.58 L288.5,92.73 L289.5,92.87 L290.5,93.02 L291.5,93.16 L292.5,93.31 L293.5,93.44 L294.5,93.58 L295.5,93.72 L296.5,93.85 L297.5,93.98 L298.5,94.11 L299.5,94.24 L300.5,94.37 L301.5,94.49 L302.5,94.62 L303.5,94.74 L304.5,94.86 L305.5,94.97 L306.5,95.09 L307.5,95.21 L308.5,95.32 L309.5,95.43 L310.5,95.54 L311.5,95.65 L312.5,95.76 L313.5,95.86 L314.5,95.97 L315.5,96.07 L316.5,96.18 L317.5,96.28 L318.5,96.38 L319.5,96.48 L320.5,96.58 L321.5,96.67 L322.5,96.77 L323.5,96.86 L324.5,96.96 L325.5,97.05 L326.5,97.15 L327.5,97.24 L328.5,97.33 L329.5,97.42 L330.5,97.51 L331.5,97.60 L332.5,97.69 L333.5,97.77 L334.5,97.86 L335.5,97.95 L336.5,98.04 L337.5,98.12 L338.5,98.21 L339.5,98.29 L340.5,98.38 L341.5,98.46 L342.5,98.55 L343.5,98.63 L344.5,98.71 L345.5,98.80 L346.5,98.88 L347.5,98.97 L348.5,99.05 L349.5,99.13 L350.5,99.22 L351.5,99.30 L352.5,99.38 L353.5,99.47 L354.5,99.55 L355.5,99.64 L356.5,99.72 L357.5,99.81 L358.5,99.89 L359.5,99.98 L360.5,100.07 L361.5,100.15 L362.5,100.24 L363.5,100.33 L364.5,100.41 L365.5,100.50 L366.5,100.59 L367.5,100.68 L368.5,100.77 L369.5,100.86 L370.5,100.95 L371.5,101.04 L372.5,101.13 L373.5,101.22 L374.5,101.31 L375.5,101.40 L376.5,101.49 L377.5,101.59 L378.5,101.68 L379.5,101.77 L380.5,101.86 L381.5,101.95 L382.5,102.05 L383.5,102.14 L384.5,102.23 L385.5,102.33 L386.5,102.42 L387.5,102.51 L388.5,102.61 L389.5,102.70 L390.5,102.79 L391.5,102.89 L392.5,102.98 L393.5,103.07 L394.5,103.17 L395.5,103.26 L396.5,103.35 L397.5,103.45 L398.5,103.54 L399.5,103.64 L400.5,103.73 L401.5,103.82 L402.5,103.92 L403.5,104.01 L404.5,104.10 L405.5,104.19 L406.5,104.29 L407.5,104.38 L408.5,104.47 L409.5,104.56 L410.5,104.66 L411.5,104.75 L412.5,104.84 L413.5,104.93 L414.5,105.02 L415.5,105.11 L416.5,105.20 L417.5,105.29 L418.5,105.38 L419.5,105.47 L420.5,105.56 L421.5,105.65 L422.5,105.74 L423.5,105.83 L424.5,105.92 L425.5,106.00 L426.5,106.09 L427.5,106.18 L428.5,106.27 L429.5,106.35 L430.5,106.44 L431.5,106.52 L432.5,106.61 L433.5,106.69 L434.5,106.77 L435.5,106.86 L436.5,106.94 L437.5,107.02 L438.5,107.10 L439.5,107.18 L440.5,107.26 L441.5,107.34 L442.5,107.42 L443.5,107.50 L444.5,107.58 L445.5,107.66 L446.5,107.73 L447.5,107.81 L448.5,107.88 L449.5,107.96 L450.5,108.03 L451.5,108.11 L452.5,108.18 L453.5,108.25 L454.5,108.32 L455.5,108.39 L456.5,108.46 L457.5,108.53 L458.5,108.60 L459.5,108.66 L460.5,108.73 L461.5,108.80 L462.5,108.86 L463.5,108.92 L464.5,108.99 L465.5,109.05 L466.5,109.11 L467.5,109.17 L468.5,109.23 L469.5,109.29 L470.5,109.35 L471.5,109.40 L472.5,109.46 L473.5,109.51 L474.5,109.56 L475.5,109.62 L476.5,109.67 L477.5,109.72 L478.5,109.77 L479.5,109.82 L480.5,109.86 L481.5,109.91 L482.5,109.95 L483.5,110.00 L484.5,110.04 L485.5,110.08 L486.5,110.12 L487.5,110.16 L488.5,110.20 L489.5,110.24 L490.5,110.27 L491.5,110.31 L492.5,110.34 L493.5,110.37 L494.5,110.40 L495.5,110.43 L496.5,110.46 L497.5,110.49 L498.5,110.51 L499.5,110.53 L500.5,110.56 L501.5,110.58 L502.5,110.60 L503.5,110.62 L504.5,110.64" fill="none" stroke="#263c74" stroke-width="1.3" stroke-linejoin="round" />
<path d="M143.8,527.40 L144.8,526.62 L145.8,525.87 L146.8,525.15 L147.8,524.46 L148.8,523.80 L149.8,523.17 L150.8,522.57 L151.8,521.99 L152.8,521.43 L153.8,520.90 L154.8,520.39 L155.8,519.90 L156.8,519.42 L157.8,518.97 L158.8,518.53 L159.8,518.10 L160.8,517.69 L161.8,517.29 L162.8,516.90 L163.8,516.52 L164.8,516.14 L165.8,515.78 L166.8,515.42 L167.8,515.06 L168.8,514.71 L169.8,514.37 L170.8,514.03 L171.8,513.70 L172.8,513.38 L173.8,513.06 L174.8,512.75 L175.8,512.44 L176.8,512.14 L177.8,511.84 L178.8,511.55 L179.8,511.26 L180.8,510.98 L181.8,510.71 L182.8,510.44 L183.8,510.17 L184.8,509.91 L185.8,509.66 L186.8,509.41 L187.8,509.17 L188.8,508.93 L189.8,508.70 L190.8,508.47 L191.8,508.24 L192.8,508.02 L193.8,507.81 L194.8,507.60 L195.8,507.39 L196.8,507.19 L197.8,507.00 L198.8,506.81 L199.8,506.62 L200.8,506.44 L201.8,506.26 L202.8,506.08 L203.8,505.91 L204.8,505.75 L205.8,505.58 L206.8,505.43 L207.8,505.27 L208.8,505.12 L209.8,504.97 L210.8,504.83 L211.8,504.69 L212.8,504.55 L213.8,504.41 L214.8,504.28 L215.8,504.15 L216.8,504.03 L217.8,503.90 L218.8,503.78 L219.8,503.66 L220.8,503.55 L221.8,503.44 L222.8,503.32 L223.8,503.22 L224.8,503.11 L225.8,503.00 L226.8,502.90 L227.8,502.80 L228.8,502.70 L229.8,502.60 L230.8,502.51 L231.8,502.41 L232.8,502.32 L233.8,502.22 L234.8,502.13 L235.8,502.04 L236.8,501.95 L237.8,501.86 L238.8,501.78 L239.8,501.69 L240.8,501.60 L241.8,501.51 L242.8,501.43 L243.8,501.34 L244.8,501.26 L245.8,501.17 L246.8,501.09 L247.8,501.01 L248.8,500.92 L249.8,500.84 L250.8,500.76 L251.8,500.68 L252.8,500.59 L253.8,500.51 L254.8,500.43 L255.8,500.35 L256.8,500.27 L257.8,500.19 L258.8,500.12 L259.8,500.04 L260.8,499.96 L261.8,499.88 L262.8,499.81 L263.8,499.73 L264.8,499.65 L265.8,499.58 L266.8,499.50 L267.8,499.43 L268.8,499.36 L269.8,499.28 L270.8,499.21 L271.8,499.14 L272.8,499.06 L273.8,498.99 L274.8,498.92 L275.8,498.85 L276.8,498.78 L277.8,498.71 L278.8,498.64 L279.8,498.57 L280.8,498.50 L281.8,498.43 L282.8,498.37 L283.8,498.30 L284.8,498.23 L285.8,498.16 L286.8,498.10 L287.8,498.03 L288.8,497.97 L289.8,497.90 L290.8,497.84 L291.8,497.77 L292.8,497.71 L293.8,497.64 L294.8,497.58 L295.8,497.52 L296.8,497.46 L297.8,497.39 L298.8,497.33 L299.8,497.27 L300.8,497.21 L301.8,497.15 L302.8,497.09 L303.8,497.03 L304.8,496.97 L305.8,496.91 L306.8,496.85 L307.8,496.79 L308.8,496.74 L309.8,496.68 L310.8,496.62 L311.8,496.56 L312.8,496.51 L313.8,496.45 L314.8,496.40 L315.8,496.34 L316.8,496.29 L317.8,496.23 L318.8,496.18 L319.8,496.12 L320.8,496.07 L321.8,496.02 L322.8,495.96 L323.8,495.91 L324.8,495.86 L325.8,495.81 L326.8,495.75 L327.8,495.70 L328.8,495.65 L329.8,495.60 L330.8,495.55 L331.8,495.50 L332.8,495.45 L333.8,495.40 L334.8,495.35 L335.8,495.31 L336.8,495.26 L337.8,495.21 L338.8,495.16 L339.8,495.11 L340.8,495.07 L341.8,495.02 L342.8,494.97 L343.8,494.93 L344.8,494.88 L345.8,494.84 L346.8,494.79 L347.8,494.75 L348.8,494.70 L349.8,494.66 L350.8,494.61 L351.8,494.57 L352.8,494.53 L353.8,494.48 L354.8,494.44 L355.8,494.40 L356.8,494.35 L357.8,494.31 L358.8,494.27 L359.8,494.23 L360.8,494.19 L361.8,494.14 L362.8,494.10 L363.8,494.06 L364.8,494.02 L365.8,493.98 L366.8,493.94 L367.8,493.90 L368.8,493.86 L369.8,493.82 L370.8,493.78 L371.8,493.74 L372.8,493.70 L373.8,493.66 L374.8,493.63 L375.8,493.59 L376.8,493.55 L377.8,493.51 L378.8,493.47 L379.8,493.43 L380.8,493.40 L381.8,493.36 L382.8,493.32 L383.8,493.29 L384.8,493.25 L385.8,493.21 L386.8,493.17 L387.8,493.14 L388.8,493.10 L389.8,493.06 L390.8,493.03 L391.8,492.99 L392.8,492.96 L393.8,492.92 L394.8,492.88 L395.8,492.85 L396.8,492.81 L397.8,492.78 L398.8,492.74 L399.8,492.71 L400.8,492.67 L401.8,492.64 L402.8,492.60 L403.8,492.57 L404.8,492.53 L405.8,492.50 L406.8,492.46 L407.8,492.43 L408.8,492.39 L409.8,492.36 L410.8,492.32 L411.8,492.29 L412.8,492.25 L413.8,492.22 L414.8,492.19 L415.8,492.15 L416.8,492.12 L417.8,492.08 L418.8,492.05 L419.8,492.01 L420.8,491.98 L421.8,491.94 L422.8,491.91 L423.8,491.88 L424.8,491.84 L425.8,491.81 L426.8,491.77 L427.8,491.74 L428.8,491.70 L429.8,491.67 L430.8,491.64 L431.8,491.60 L432.8,491.57 L433.8,491.53 L434.8,491.50 L435.8,491.46 L436.8,491.43 L437.8,491.39 L438.8,491.36 L439.8,491.32 L440.8,491.29 L441.8,491.25 L442.8,491.22 L443.8,491.18 L444.8,491.15 L445.8,491.11 L446.8,491.08 L447.8,491.04 L448.8,491.01 L449.8,490.97 L450.8,490.94 L451.8,490.90 L452.8,490.87 L453.8,490.83 L454.8,490.79 L455.8,490.76 L456.8,490.72 L457.8,490.68 L458.8,490.65 L459.8,490.61 L460.8,490.57 L461.8,490.54 L462.8,490.50 L463.8,490.46 L464.8,490.42 L465.8,490.39 L466.8,490.35 L467.8,490.31 L468.8,490.27 L469.8,490.24 L470.8,490.20 L471.8,490.16 L472.8,490.12 L473.8,490.08 L474.8,490.04 L475.8,490.00 L476.8,489.96 L477.8,489.92 L478.8,489.88 L479.8,489.84 L480.8,489.80 L481.8,489.76 L482.8,489.72 L483.8,489.68 L484.8,489.64 L485.8,489.60 L486.8,489.55 L487.8,489.51 L488.8,489.47 L489.8,489.43 L490.8,489.38 L491.8,489.34 L492.8,489.30 L493.8,489.25 L494.8,489.21 L495.8,489.17 L496.8,489.12 L497.8,489.08 L498.8,489.03 L499.8,488.99 L500.8,488.94 L501.8,488.90 L502.8,488.85 L503.8,488.80 L504.8,488.76" fill="none" stroke="#263c74" stroke-width="1.3" stroke-linejoin="round" />
<path d="M143.8,527.40 L144.8,526.62 L145.8,525.85 L146.8,525.10 L147.8,524.36 L148.8,523.64 L149.8,522.93 L150.8,522.24 L151.8,521.56 L152.8,520.90 L153.8,520.25 L154.8,519.61 L155.8,518.99 L156.8,518.37 L157.8,517.78 L158.8,517.19 L159.8,516.62 L160.8,516.06 L161.8,515.51 L162.8,514.97 L163.8,514.45 L164.8,513.94 L165.8,513.44 L166.8,512.94 L167.8,512.46 L168.8,511.99 L169.8,511.54 L170.8,511.09 L171.8,510.65 L172.8,510.22 L173.8,509.80 L174.8,509.39 L175.8,508.99 L176.8,508.59 L177.8,508.21 L178.8,507.83 L179.8,507.47 L180.8,507.11 L181.8,506.75 L182.8,506.41 L183.8,506.07 L184.8,505.74 L185.8,505.42 L186.8,505.10 L187.8,504.79 L188.8,504.49 L189.8,504.19 L190.8,503.90 L191.8,503.62 L192.8,503.34 L193.8,503.06 L194.8,502.79 L195.8,502.52 L196.8,502.26 L197.8,502.01 L198.8,501.75 L199.8,501.50 L200.8,501.26 L201.8,501.02 L202.8,500.78 L203.8,500.55 L204.8,500.32 L205.8,500.09 L206.8,499.86 L207.8,499.64 L208.8,499.43 L209.8,499.21 L210.8,499.00 L211.8,498.80 L212.8,498.59 L213.8,498.39 L214.8,498.19 L215.8,498.00 L216.8,497.81 L217.8,497.62 L218.8,497.44 L219.8,497.25 L220.8,497.08 L221.8,496.90 L222.8,496.73 L223.8,496.56 L224.8,496.39 L225.8,496.23 L226.8,496.07 L227.8,495.91 L228.8,495.75 L229.8,495.60 L230.8,495.45 L231.8,495.30 L232.8,495.16 L233.8,495.01 L234.8,494.87 L235.8,494.74 L236.8,494.60 L237.8,494.47 L238.8,494.34 L239.8,494.21 L240.8,494.09 L241.8,493.97 L242.8,493.85 L243.8,493.73 L244.8,493.61 L245.8,493.50 L246.8,493.39 L247.8,493.28 L248.8,493.17 L249.8,493.07 L250.8,492.96 L251.8,492.86 L252.8,492.76 L253.8,492.67 L254.8,492.57 L255.8,492.48 L256.8,492.39 L257.8,492.30 L258.8,492.21 L259.8,492.13 L260.8,492.05 L261.8,491.96 L262.8,491.88 L263.8,491.81 L264.8,491.73 L265.8,491.65 L266.8,491.58 L267.8,491.51 L268.8,491.44 L269.8,491.37 L270.8,491.30 L271.8,491.24 L272.8,491.17 L273.8,491.11 L274.8,491.05 L275.8,490.99 L276.8,490.93 L277.8,490.87 L278.8,490.81 L279.8,490.76 L280.8,490.70 L281.8,490.65 L282.8,490.59 L283.8,490.54 L284.8,490.49 L285.8,490.44 L286.8,490.40 L287.8,490.35 L288.8,490.30 L289.8,490.26 L290.8,490.21 L291.8,490.17 L292.8,490.12 L293.8,490.08 L294.8,490.04 L295.8,490.00 L296.8,489.96 L297.8,489.92 L298.8,489.88 L299.8,489.84 L300.8,489.80 L301.8,489.77 L302.8,489.73 L303.8,489.69 L304.8,489.65 L305.8,489.62 L306.8,489.58 L307.8,489.55 L308.8,489.51 L309.8,489.48 L310.8,489.44 L311.8,489.41 L312.8,489.37 L313.8,489.34 L314.8,489.31 L315.8,489.27 L316.8,489.24 L317.8,489.20 L318.8,489.17 L319.8,489.14 L320.8,489.10 L321.8,489.07 L322.8,489.03 L323.8,489.00 L324.8,488.96 L325.8,488.93 L326.8,488.89 L327.8,488.86 L328.8,488.82 L329.8,488.79 L330.8,488.75 L331.8,488.71 L332.8,488.67 L333.8,488.64 L334.8,488.60 L335.8,488.56 L336.8,488.52 L337.8,488.48 L338.8,488.44 L339.8,488.39 L340.8,488.35 L341.8,488.31 L342.8,488.26 L343.8,488.22 L344.8,488.17 L345.8,488.13 L346.8,488.08 L347.8,488.03 L348.8,487.99 L349.8,487.94 L350.8,487.89 L351.8,487.84 L352.8,487.79 L353.8,487.74 L354.8,487.69 L355.8,487.63 L356.8,487.58 L357.8,487.53 L358.8,487.47 L359.8,487.42 L360.8,487.36 L361.8,487.31 L362.8,487.25 L363.8,487.20 L364.8,487.14 L365.8,487.09 L366.8,487.03 L367.8,486.97 L368.8,486.91 L369.8,486.85 L370.8,486.80 L371.8,486.74 L372.8,486.68 L373.8,486.62 L374.8,486.56 L375.8,486.50 L376.8,486.44 L377.8,486.38 L378.8,486.31 L379.8,486.25 L380.8,486.19 L381.8,486.13 L382.8,486.07 L383.8,486.01 L384.8,485.94 L385.8,485.88 L386.8,485.82 L387.8,485.75 L388.8,485.69 L389.8,485.63 L390.8,485.57 L391.8,485.50 L392.8,485.44 L393.8,485.38 L394.8,485.31 L395.8,485.25 L396.8,485.18 L397.8,485.12 L398.8,485.06 L399.8,484.99 L400.8,484.93 L401.8,484.87 L402.8,484.80 L403.8,484.74 L404.8,484.68 L405.8,484.61 L406.8,484.55 L407.8,484.49 L408.8,484.42 L409.8,484.36 L410.8,484.30 L411.8,484.24 L412.8,484.17 L413.8,484.11 L414.8,484.05 L415.8,483.99 L416.8,483.93 L417.8,483.86 L418.8,483.80 L419.8,483.74 L420.8,483.68 L421.8,483.62 L422.8,483.56 L423.8,483.50 L424.8,483.44 L425.8,483.38 L426.8,483.32 L427.8,483.27 L428.8,483.21 L429.8,483.15 L430.8,483.09 L431.8,483.04 L432.8,482.98 L433.8,482.92 L434.8,482.87 L435.8,482.81 L436.8,482.76 L437.8,482.70 L438.8,482.65 L439.8,482.60 L440.8,482.55 L441.8,482.49 L442.8,482.44 L443.8,482.39 L444.8,482.34 L445.8,482.29 L446.8,482.24 L447.8,482.19 L448.8,482.14 L449.8,482.10 L450.8,482.05 L451.8,482.00 L452.8,481.96 L453.8,481.91 L454.8,481.87 L455.8,481.83 L456.8,481.78 L457.8,481.74 L458.8,481.70 L459.8,481.66 L460.8,481.62 L461.8,481.58 L462.8,481.54 L463.8,481.51 L464.8,481.47 L465.8,481.43 L466.8,481.40 L467.8,481.37 L468.8,481.33 L469.8,481.30 L470.8,481.27 L471.8,481.24 L472.8,481.21 L473.8,481.18 L474.8,481.15 L475.8,481.13 L476.8,481.10 L477.8,481.08 L478.8,481.05 L479.8,481.03 L480.8,481.01 L481.8,480.99 L482.8,480.97 L483.8,480.95 L484.8,480.93 L485.8,480.92 L486.8,480.90 L487.8,480.89 L488.8,480.87 L489.8,480.86 L490.8,480.85 L491.8,480.84 L492.8,480.83 L493.8,480.82 L494.8,480.82 L495.8,480.81 L496.8,480.81 L497.8,480.81 L498.8,480.81 L499.8,480.81 L500.8,480.81 L501.8,480.81 L502.8,480.81 L503.8,480.82 L504.8,480.82" fill="none" stroke="#dfe5dc" stroke-width="2.6" stroke-linejoin="round" />
<path d="M143.8,527.40 L144.8,526.62 L145.8,525.85 L146.8,525.10 L147.8,524.36 L148.8,523.64 L149.8,522.93 L150.8,522.24 L151.8,521.56 L152.8,520.90 L153.8,520.25 L154.8,519.61 L155.8,518.99 L156.8,518.37 L157.8,517.78 L158.8,517.19 L159.8,516.62 L160.8,516.06 L161.8,515.51 L162.8,514.97 L163.8,514.45 L164.8,513.94 L165.8,513.44 L166.8,512.94 L167.8,512.46 L168.8,511.99 L169.8,511.54 L170.8,511.09 L171.8,510.65 L172.8,510.22 L173.8,509.80 L174.8,509.39 L175.8,508.99 L176.8,508.59 L177.8,508.21 L178.8,507.83 L179.8,507.47 L180.8,507.11 L181.8,506.75 L182.8,506.41 L183.8,506.07 L184.8,505.74 L185.8,505.42 L186.8,505.10 L187.8,504.79 L188.8,504.49 L189.8,504.19 L190.8,503.90 L191.8,503.62 L192.8,503.34 L193.8,503.06 L194.8,502.79 L195.8,502.52 L196.8,502.26 L197.8,502.01 L198.8,501.75 L199.8,501.50 L200.8,501.26 L201.8,501.02 L202.8,500.78 L203.8,500.55 L204.8,500.32 L205.8,500.09 L206.8,499.86 L207.8,499.64 L208.8,499.43 L209.8,499.21 L210.8,499.00 L211.8,498.80 L212.8,498.59 L213.8,498.39 L214.8,498.19 L215.8,498.00 L216.8,497.81 L217.8,497.62 L218.8,497.44 L219.8,497.25 L220.8,497.08 L221.8,496.90 L222.8,496.73 L223.8,496.56 L224.8,496.39 L225.8,496.23 L226.8,496.07 L227.8,495.91 L228.8,495.75 L229.8,495.60 L230.8,495.45 L231.8,495.30 L232.8,495.16 L233.8,495.01 L234.8,494.87 L235.8,494.74 L236.8,494.60 L237.8,494.47 L238.8,494.34 L239.8,494.21 L240.8,494.09 L241.8,493.97 L242.8,493.85 L243.8,493.73 L244.8,493.61 L245.8,493.50 L246.8,493.39 L247.8,493.28 L248.8,493.17 L249.8,493.07 L250.8,492.96 L251.8,492.86 L252.8,492.76 L253.8,492.67 L254.8,492.57 L255.8,492.48 L256.8,492.39 L257.8,492.30 L258.8,492.21 L259.8,492.13 L260.8,492.05 L261.8,491.96 L262.8,491.88 L263.8,491.81 L264.8,491.73 L265.8,491.65 L266.8,491.58 L267.8,491.51 L268.8,491.44 L269.8,491.37 L270.8,491.30 L271.8,491.24 L272.8,491.17 L273.8,491.11 L274.8,491.05 L275.8,490.99 L276.8,490.93 L277.8,490.87 L278.8,490.81 L279.8,490.76 L280.8,490.70 L281.8,490.65 L282.8,490.59 L283.8,490.54 L284.8,490.49 L285.8,490.44 L286.8,490.40 L287.8,490.35 L288.8,490.30 L289.8,490.26 L290.8,490.21 L291.8,490.17 L292.8,490.12 L293.8,490.08 L294.8,490.04 L295.8,490.00 L296.8,489.96 L297.8,489.92 L298.8,489.88 L299.8,489.84 L300.8,489.80 L301.8,489.77 L302.8,489.73 L303.8,489.69 L304.8,489.65 L305.8,489.62 L306.8,489.58 L307.8,489.55 L308.8,489.51 L309.8,489.48 L310.8,489.44 L311.8,489.41 L312.8,489.37 L313.8,489.34 L314.8,489.31 L315.8,489.27 L316.8,489.24 L317.8,489.20 L318.8,489.17 L319.8,489.14 L320.8,489.10 L321.8,489.07 L322.8,489.03 L323.8,489.00 L324.8,488.96 L325.8,488.93 L326.8,488.89 L327.8,488.86 L328.8,488.82 L329.8,488.79 L330.8,488.75 L331.8,488.71 L332.8,488.67 L333.8,488.64 L334.8,488.60 L335.8,488.56 L336.8,488.52 L337.8,488.48 L338.8,488.44 L339.8,488.39 L340.8,488.35 L341.8,488.31 L342.8,488.26 L343.8,488.22 L344.8,488.17 L345.8,488.13 L346.8,488.08 L347.8,488.03 L348.8,487.99 L349.8,487.94 L350.8,487.89 L351.8,487.84 L352.8,487.79 L353.8,487.74 L354.8,487.69 L355.8,487.63 L356.8,487.58 L357.8,487.53 L358.8,487.47 L359.8,487.42 L360.8,487.36 L361.8,487.31 L362.8,487.25 L363.8,487.20 L364.8,487.14 L365.8,487.09 L366.8,487.03 L367.8,486.97 L368.8,486.91 L369.8,486.85 L370.8,486.80 L371.8,486.74 L372.8,486.68 L373.8,486.62 L374.8,486.56 L375.8,486.50 L376.8,486.44 L377.8,486.38 L378.8,486.31 L379.8,486.25 L380.8,486.19 L381.8,486.13 L382.8,486.07 L383.8,486.01 L384.8,485.94 L385.8,485.88 L386.8,485.82 L387.8,485.75 L388.8,485.69 L389.8,485.63 L390.8,485.57 L391.8,485.50 L392.8,485.44 L393.8,485.38 L394.8,485.31 L395.8,485.25 L396.8,485.18 L397.8,485.12 L398.8,485.06 L399.8,484.99 L400.8,484.93 L401.8,484.87 L402.8,484.80 L403.8,484.74 L404.8,484.68 L405.8,484.61 L406.8,484.55 L407.8,484.49 L408.8,484.42 L409.8,484.36 L410.8,484.30 L411.8,484.24 L412.8,484.17 L413.8,484.11 L414.8,484.05 L415.8,483.99 L416.8,483.93 L417.8,483.86 L418.8,483.80 L419.8,483.74 L420.8,483.68 L421.8,483.62 L422.8,483.56 L423.8,483.50 L424.8,483.44 L425.8,483.38 L426.8,483.32 L427.8,483.27 L428.8,483.21 L429.8,483.15 L430.8,483.09 L431.8,483.04 L432.8,482.98 L433.8,482.92 L434.8,482.87 L435.8,482.81 L436.8,482.76 L437.8,482.70 L438.8,482.65 L439.8,482.60 L440.8,482.55 L441.8,482.49 L442.8,482.44 L443.8,482.39 L444.8,482.34 L445.8,482.29 L446.8,482.24 L447.8,482.19 L448.8,482.14 L449.8,482.10 L450.8,482.05 L451.8,482.00 L452.8,481.96 L453.8,481.91 L454.8,481.87 L455.8,481.83 L456.8,481.78 L457.8,481.74 L458.8,481.70 L459.8,481.66 L460.8,481.62 L461.8,481.58 L462.8,481.54 L463.8,481.51 L464.8,481.47 L465.8,481.43 L466.8,481.40 L467.8,481.37 L468.8,481.33 L469.8,481.30 L470.8,481.27 L471.8,481.24 L472.8,481.21 L473.8,481.18 L474.8,481.15 L475.8,481.13 L476.8,481.10 L477.8,481.08 L478.8,481.05 L479.8,481.03 L480.8,481.01 L481.8,480.99 L482.8,480.97 L483.8,480.95 L484.8,480.93 L485.8,480.92 L486.8,480.90 L487.8,480.89 L488.8,480.87 L489.8,480.86 L490.8,480.85 L491.8,480.84 L492.8,480.83 L493.8,480.82 L494.8,480.82 L495.8,480.81 L496.8,480.81 L497.8,480.81 L498.8,480.81 L499.8,480.81 L500.8,480.81 L501.8,480.81 L502.8,480.81 L503.8,480.82 L504.8,480.82" fill="none" stroke="#5c9f50" stroke-width="1.3" stroke-linejoin="round" />
<path d="M143.8,527.40 L144.8,526.62 L145.8,525.85 L146.8,525.10 L147.8,524.36 L148.8,523.64 L149.8,522.93 L150.8,522.24 L151.8,521.56 L152.8,520.90 L153.8,520.25 L154.8,519.61 L155.8,518.99 L156.8,518.37 L157.8,517.78 L158.8,517.19 L159.8,516.62 L160.8,516.06 L161.8,515.51 L162.8,514.97 L163.8,514.45 L164.8,513.94 L165.8,513.44 L166.8,512.94 L167.8,512.46 L168.8,511.99 L169.8,511.54 L170.8,511.09 L171.8,510.65 L172.8,510.22 L173.8,509.80 L174.8,509.39 L175.8,508.99 L176.8,508.59 L177.8,508.21 L178.8,507.83 L179.8,507.47 L180.8,507.11 L181.8,506.75 L182.8,506.41 L183.8,506.07 L184.8,505.74 L185.8,505.42 L186.8,505.10 L187.8,504.79 L188.8,504.49 L189.8,504.19 L190.8,503.90 L191.8,503.62 L192.8,503.34 L193.8,503.06 L194.8,502.79 L195.8,502.52 L196.8,502.26 L197.8,502.01 L198.8,501.75 L199.8,501.50 L200.8,501.26 L201.8,501.02 L202.8,500.78 L203.8,500.55 L204.8,500.32 L205.8,500.09 L206.8,499.86 L207.8,499.64 L208.8,499.43 L209.8,499.21 L210.8,499.00 L211.8,498.80 L212.8,498.59 L213.8,498.39 L214.8,498.19 L215.8,498.00 L216.8,497.81 L217.8,497.62 L218.8,497.44 L219.8,497.25 L220.8,497.08 L221.8,496.90 L222.8,496.73 L223.8,496.56 L224.8,496.39 L225.8,496.23 L226.8,496.07 L227.8,495.91 L228.8,495.75 L229.8,495.60 L230.8,495.45 L231.8,495.30 L232.8,495.16 L233.8,495.01 L234.8,494.87 L235.8,494.74 L236.8,494.60 L237.8,494.47 L238.8,494.34 L239.8,494.21 L240.8,494.09 L241.8,493.97 L242.8,493.85 L243.8,493.73 L244.8,493.61 L245.8,493.50 L246.8,493.39 L247.8,493.28 L248.8,493.17 L249.8,493.07 L250.8,492.96 L251.8,492.86 L252.8,492.76 L253.8,492.67 L254.8,492.57 L255.8,492.48 L256.8,492.39 L257.8,492.30 L258.8,492.21 L259.8,492.13 L260.8,492.05 L261.8,491.96 L262.8,491.88 L263.8,491.81 L264.8,491.73 L265.8,491.65 L266.8,491.58 L267.8,491.51 L268.8,491.44 L269.8,491.37 L270.8,491.30 L271.8,491.24 L272.8,491.17 L273.8,491.11 L274.8,491.05 L275.8,490.99 L276.8,490.93 L277.8,490.87 L278.8,490.81 L279.8,490.76 L280.8,490.70 L281.8,490.65 L282.8,490.59 L283.8,490.54 L284.8,490.49 L285.8,490.44 L286.8,490.40 L287.8,490.35 L288.8,490.30 L289.8,490.26 L290.8,490.21 L291.8,490.17 L292.8,490.12 L293.8,490.08 L294.8,490.04 L295.8,490.00 L296.8,489.96 L297.8,489.92 L298.8,489.88 L299.8,489.84 L300.8,489.80 L301.8,489.77 L302.8,489.73 L303.8,489.69 L304.8,489.65 L305.8,489.62 L306.8,489.58 L307.8,489.55 L308.8,489.51 L309.8,489.48 L310.8,489.44 L311.8,489.41 L312.8,489.37 L313.8,489.34 L314.8,489.31 L315.8,489.27 L316.8,489.24 L317.8,489.20 L318.8,489.17 L319.8,489.14 L320.8,489.10 L321.8,489.07 L322.8,489.03 L323.8,489.00 L324.8,488.96 L325.8,488.93 L326.8,488.89 L327.8,488.86 L328.8,488.82 L329.8,488.79 L330.8,488.75 L331.8,488.71 L332.8,488.67 L333.8,488.64 L334.8,488.60 L335.8,488.56 L336.8,488.52 L337.8,488.48 L338.8,488.44 L339.8,488.39 L340.8,488.35 L341.8,488.31 L342.8,488.26 L343.8,488.22 L344.8,488.17 L345.8,488.13 L346.8,488.08 L347.8,488.03 L348.8,487.99 L349.8,487.94 L350.8,487.89 L351.8,487.84 L352.8,487.79 L353.8,487.74 L354.8,487.69 L355.8,487.63 L356.8,487.58 L357.8,487.53 L358.8,487.47 L359.8,487.42 L360.8,487.36 L361.8,487.31 L362.8,487.25 L363.8,487.20 L364.8,487.14 L365.8,487.09 L366.8,487.03 L367.8,486.97 L368.8,486.91 L369.8,486.85 L370.8,486.80 L371.8,486.74 L372.8,486.68 L373.8,486.62 L374.8,486.56 L375.8,486.50 L376.8,486.44 L377.8,486.38 L378.8,486.31 L379.8,486.25 L380.8,486.19 L381.8,486.13 L382.8,486.07 L383.8,486.01 L384.8,485.94 L385.8,485.88 L386.8,485.82 L387.8,485.75 L388.8,485.69 L389.8,485.63 L390.8,485.57 L391.8,485.50 L392.8,485.44 L393.8,485.38 L394.8,485.31 L395.8,485.25 L396.8,485.18 L397.8,485.12 L398.8,485.06 L399.8,484.99 L400.8,484.93 L401.8,484.87 L402.8,484.80 L403.8,484.74 L404.8,484.68 L405.8,484.61 L406.8,484.55 L407.8,484.49 L408.8,484.42 L409.8,484.36 L410.8,484.30 L411.8,484.24 L412.8,484.17 L413.8,484.11 L414.8,484.05 L415.8,483.99 L416.8,483.93 L417.8,483.86 L418.8,483.80 L419.8,483.74 L420.8,483.68 L421.8,483.62 L422.8,483.56 L423.8,483.50 L424.8,483.44 L425.8,483.38 L426.8,483.32 L427.8,483.27 L428.8,483.21 L429.8,483.15 L430.8,483.09 L431.8,483.04 L432.8,482.98 L433.8,482.92 L434.8,482.87 L435.8,482.81 L436.8,482.76 L437.8,482.70 L438.8,482.65 L439.8,482.60 L440.8,482.55 L441.8,482.49 L442.8,482.44 L443.8,482.39 L444.8,482.34 L445.8,482.29 L446.8,482.24 L447.8,482.19 L448.8,482.14 L449.8,482.10 L450.8,482.05 L451.8,482.00 L452.8,481.96 L453.8,481.91 L454.8,481.87 L455.8,481.83 L456.8,481.78 L457.8,481.74 L458.8,481.70 L459.8,481.66 L460.8,481.62 L461.8,481.58 L462.8,481.54 L463.8,481.51 L464.8,481.47 L465.8,481.43 L466.8,481.40 L467.8,481.37 L468.8,481.33 L469.8,481.30 L470.8,481.27 L471.8,481.24 L472.8,481.21 L473.8,481.18 L474.8,481.15 L475.8,481.13 L476.8,481.10 L477.8,481.08 L478.8,481.05 L479.8,481.03 L480.8,481.01 L481.8,480.99 L482.8,480.97 L483.8,480.95 L484.8,480.93 L485.8,480.92 L486.8,480.90 L487.8,480.89 L488.8,480.87 L489.8,480.86 L490.8,480.85 L491.8,480.84 L492.8,480.83 L493.8,480.82 L494.8,480.82 L495.8,480.81 L496.8,480.81 L497.8,480.81 L498.8,480.81 L499.8,480.81 L500.8,480.81 L501.8,480.81 L502.8,480.81 L503.8,480.82 L504.8,480.82" fill="none" stroke="#9aa89a" stroke-width="1.3" stroke-linejoin="round" stroke-dasharray="1.5 8"/>
<path d="M143.8,527.40 L144.8,526.64 L145.8,525.87 L146.8,525.09 L147.8,524.32 L148.8,523.53 L149.8,522.75 L150.8,521.96 L151.8,521.18 L152.8,520.39 L153.8,519.61 L154.8,518.83 L155.8,518.05 L156.8,517.27 L157.8,516.50 L158.8,515.74 L159.8,514.98 L160.8,514.23 L161.8,513.49 L162.8,512.76 L163.8,512.03 L164.8,511.32 L165.8,510.62 L166.8,509.93 L167.8,509.26 L168.8,508.60 L169.8,507.95 L170.8,507.31 L171.8,506.68 L172.8,506.07 L173.8,505.47 L174.8,504.89 L175.8,504.32 L176.8,503.77 L177.8,503.22 L178.8,502.70 L179.8,502.19 L180.8,501.69 L181.8,501.21 L182.8,500.74 L183.8,500.29 L184.8,499.85 L185.8,499.43 L186.8,499.03 L187.8,498.64 L188.8,498.27 L189.8,497.90 L190.8,497.55 L191.8,497.21 L192.8,496.89 L193.8,496.57 L194.8,496.26 L195.8,495.95 L196.8,495.66 L197.8,495.37 L198.8,495.09 L199.8,494.81 L200.8,494.53 L201.8,494.26 L202.8,494.00 L203.8,493.73 L204.8,493.48 L205.8,493.22 L206.8,492.97 L207.8,492.72 L208.8,492.48 L209.8,492.23 L210.8,492.00 L211.8,491.76 L212.8,491.53 L213.8,491.30 L214.8,491.08 L215.8,490.86 L216.8,490.64 L217.8,490.43 L218.8,490.22 L219.8,490.01 L220.8,489.80 L221.8,489.60 L222.8,489.40 L223.8,489.21 L224.8,489.02 L225.8,488.83 L226.8,488.64 L227.8,488.46 L228.8,488.28 L229.8,488.10 L230.8,487.92 L231.8,487.75 L232.8,487.58 L233.8,487.42 L234.8,487.25 L235.8,487.09 L236.8,486.93 L237.8,486.78 L238.8,486.63 L239.8,486.48 L240.8,486.33 L241.8,486.18 L242.8,486.04 L243.8,485.90 L244.8,485.76 L245.8,485.63 L246.8,485.49 L247.8,485.36 L248.8,485.23 L249.8,485.11 L250.8,484.98 L251.8,484.86 L252.8,484.74 L253.8,484.62 L254.8,484.51 L255.8,484.39 L256.8,484.28 L257.8,484.17 L258.8,484.06 L259.8,483.96 L260.8,483.85 L261.8,483.75 L262.8,483.65 L263.8,483.55 L264.8,483.46 L265.8,483.36 L266.8,483.27 L267.8,483.18 L268.8,483.09 L269.8,483.00 L270.8,482.91 L271.8,482.83 L272.8,482.74 L273.8,482.66 L274.8,482.58 L275.8,482.50 L276.8,482.42 L277.8,482.35 L278.8,482.27 L279.8,482.20 L280.8,482.12 L281.8,482.05 L282.8,481.98 L283.8,481.91 L284.8,481.85 L285.8,481.78 L286.8,481.71 L287.8,481.65 L288.8,481.59 L289.8,481.52 L290.8,481.46 L291.8,481.40 L292.8,481.34 L293.8,481.28 L294.8,481.22 L295.8,481.16 L296.8,481.11 L297.8,481.05 L298.8,481.00 L299.8,480.94 L300.8,480.89 L301.8,480.83 L302.8,480.78 L303.8,480.73 L304.8,480.68 L305.8,480.62 L306.8,480.57 L307.8,480.52 L308.8,480.47 L309.8,480.42 L310.8,480.37 L311.8,480.32 L312.8,480.27 L313.8,480.22 L314.8,480.18 L315.8,480.13 L316.8,480.08 L317.8,480.03 L318.8,479.98 L319.8,479.93 L320.8,479.88 L321.8,479.84 L322.8,479.79 L323.8,479.74 L324.8,479.69 L325.8,479.64 L326.8,479.59 L327.8,479.54 L328.8,479.49 L329.8,479.44 L330.8,479.39 L331.8,479.34 L332.8,479.29 L333.8,479.24 L334.8,479.19 L335.8,479.13 L336.8,479.08 L337.8,479.03 L338.8,478.97 L339.8,478.92 L340.8,478.86 L341.8,478.81 L342.8,478.75 L343.8,478.69 L344.8,478.63 L345.8,478.57 L346.8,478.52 L347.8,478.46 L348.8,478.39 L349.8,478.33 L350.8,478.27 L351.8,478.21 L352.8,478.15 L353.8,478.08 L354.8,478.02 L355.8,477.96 L356.8,477.89 L357.8,477.83 L358.8,477.76 L359.8,477.70 L360.8,477.63 L361.8,477.56 L362.8,477.50 L363.8,477.43 L364.8,477.36 L365.8,477.29 L366.8,477.22 L367.8,477.16 L368.8,477.09 L369.8,477.02 L370.8,476.95 L371.8,476.88 L372.8,476.81 L373.8,476.74 L374.8,476.67 L375.8,476.60 L376.8,476.52 L377.8,476.45 L378.8,476.38 L379.8,476.31 L380.8,476.24 L381.8,476.16 L382.8,476.09 L383.8,476.02 L384.8,475.95 L385.8,475.87 L386.8,475.80 L387.8,475.73 L388.8,475.66 L389.8,475.58 L390.8,475.51 L391.8,475.44 L392.8,475.36 L393.8,475.29 L394.8,475.22 L395.8,475.14 L396.8,475.07 L397.8,475.00 L398.8,474.93 L399.8,474.85 L400.8,474.78 L401.8,474.71 L402.8,474.63 L403.8,474.56 L404.8,474.49 L405.8,474.42 L406.8,474.34 L407.8,474.27 L408.8,474.20 L409.8,474.13 L410.8,474.06 L411.8,473.99 L412.8,473.92 L413.8,473.85 L414.8,473.77 L415.8,473.70 L416.8,473.63 L417.8,473.56 L418.8,473.50 L419.8,473.43 L420.8,473.36 L421.8,473.29 L422.8,473.22 L423.8,473.15 L424.8,473.09 L425.8,473.02 L426.8,472.95 L427.8,472.89 L428.8,472.82 L429.8,472.76 L430.8,472.69 L431.8,472.63 L432.8,472.56 L433.8,472.50 L434.8,472.44 L435.8,472.37 L436.8,472.31 L437.8,472.25 L438.8,472.19 L439.8,472.13 L440.8,472.07 L441.8,472.01 L442.8,471.95 L443.8,471.89 L444.8,471.84 L445.8,471.78 L446.8,471.72 L447.8,471.67 L448.8,471.61 L449.8,471.56 L450.8,471.51 L451.8,471.45 L452.8,471.40 L453.8,471.35 L454.8,471.30 L455.8,471.25 L456.8,471.20 L457.8,471.15 L458.8,471.10 L459.8,471.06 L460.8,471.01 L461.8,470.97 L462.8,470.92 L463.8,470.88 L464.8,470.84 L465.8,470.80 L466.8,470.76 L467.8,470.72 L468.8,470.68 L469.8,470.64 L470.8,470.60 L471.8,470.57 L472.8,470.53 L473.8,470.50 L474.8,470.46 L475.8,470.43 L476.8,470.40 L477.8,470.37 L478.8,470.34 L479.8,470.31 L480.8,470.29 L481.8,470.26 L482.8,470.24 L483.8,470.21 L484.8,470.19 L485.8,470.17 L486.8,470.15 L487.8,470.13 L488.8,470.11 L489.8,470.09 L490.8,470.08 L491.8,470.06 L492.8,470.05 L493.8,470.04 L494.8,470.03 L495.8,470.02 L496.8,470.01 L497.8,470.00 L498.8,470.00 L499.8,469.99 L500.8,469.99 L501.8,469.99 L502.8,469.99 L503.8,469.99 L504.8,469.99" fill="none" stroke="#41a9dc" stroke-width="1.3" stroke-linejoin="round" />
<path d="M143.8,527.40 L144.8,526.74 L145.8,526.04 L146.8,525.30 L147.8,524.53 L148.8,523.74 L149.8,522.92 L150.8,522.08 L151.8,521.22 L152.8,520.34 L153.8,519.45 L154.8,518.55 L155.8,517.64 L156.8,516.73 L157.8,515.82 L158.8,514.92 L159.8,514.02 L160.8,513.12 L161.8,512.24 L162.8,511.38 L163.8,510.53 L164.8,509.70 L165.8,508.90 L166.8,508.12 L167.8,507.37 L168.8,506.64 L169.8,505.93 L170.8,505.25 L171.8,504.58 L172.8,503.94 L173.8,503.32 L174.8,502.71 L175.8,502.13 L176.8,501.57 L177.8,501.02 L178.8,500.49 L179.8,499.98 L180.8,499.48 L181.8,499.00 L182.8,498.53 L183.8,498.08 L184.8,497.64 L185.8,497.22 L186.8,496.80 L187.8,496.40 L188.8,496.01 L189.8,495.64 L190.8,495.27 L191.8,494.91 L192.8,494.56 L193.8,494.22 L194.8,493.89 L195.8,493.56 L196.8,493.24 L197.8,492.93 L198.8,492.62 L199.8,492.32 L200.8,492.02 L201.8,491.73 L202.8,491.44 L203.8,491.15 L204.8,490.87 L205.8,490.59 L206.8,490.32 L207.8,490.05 L208.8,489.78 L209.8,489.52 L210.8,489.26 L211.8,489.00 L212.8,488.75 L213.8,488.50 L214.8,488.26 L215.8,488.02 L216.8,487.78 L217.8,487.55 L218.8,487.32 L219.8,487.09 L220.8,486.87 L221.8,486.65 L222.8,486.44 L223.8,486.22 L224.8,486.02 L225.8,485.81 L226.8,485.61 L227.8,485.41 L228.8,485.21 L229.8,485.02 L230.8,484.83 L231.8,484.64 L232.8,484.46 L233.8,484.28 L234.8,484.10 L235.8,483.93 L236.8,483.75 L237.8,483.58 L238.8,483.42 L239.8,483.26 L240.8,483.09 L241.8,482.94 L242.8,482.78 L243.8,482.63 L244.8,482.48 L245.8,482.33 L246.8,482.19 L247.8,482.05 L248.8,481.91 L249.8,481.77 L250.8,481.63 L251.8,481.50 L252.8,481.37 L253.8,481.24 L254.8,481.12 L255.8,481.00 L256.8,480.88 L257.8,480.76 L258.8,480.64 L259.8,480.53 L260.8,480.41 L261.8,480.30 L262.8,480.19 L263.8,480.09 L264.8,479.98 L265.8,479.88 L266.8,479.78 L267.8,479.68 L268.8,479.59 L269.8,479.49 L270.8,479.40 L271.8,479.31 L272.8,479.22 L273.8,479.13 L274.8,479.04 L275.8,478.96 L276.8,478.87 L277.8,478.79 L278.8,478.71 L279.8,478.63 L280.8,478.55 L281.8,478.48 L282.8,478.40 L283.8,478.33 L284.8,478.26 L285.8,478.18 L286.8,478.11 L287.8,478.04 L288.8,477.98 L289.8,477.91 L290.8,477.84 L291.8,477.78 L292.8,477.72 L293.8,477.65 L294.8,477.59 L295.8,477.53 L296.8,477.47 L297.8,477.41 L298.8,477.35 L299.8,477.30 L300.8,477.24 L301.8,477.18 L302.8,477.13 L303.8,477.07 L304.8,477.02 L305.8,476.96 L306.8,476.91 L307.8,476.86 L308.8,476.80 L309.8,476.75 L310.8,476.70 L311.8,476.65 L312.8,476.60 L313.8,476.55 L314.8,476.49 L315.8,476.44 L316.8,476.39 L317.8,476.34 L318.8,476.29 L319.8,476.24 L320.8,476.19 L321.8,476.14 L322.8,476.09 L323.8,476.04 L324.8,475.99 L325.8,475.94 L326.8,475.89 L327.8,475.84 L328.8,475.79 L329.8,475.74 L330.8,475.69 L331.8,475.63 L332.8,475.58 L333.8,475.53 L334.8,475.48 L335.8,475.42 L336.8,475.37 L337.8,475.31 L338.8,475.26 L339.8,475.20 L340.8,475.14 L341.8,475.09 L342.8,475.03 L343.8,474.97 L344.8,474.91 L345.8,474.85 L346.8,474.79 L347.8,474.73 L348.8,474.67 L349.8,474.60 L350.8,474.54 L351.8,474.48 L352.8,474.41 L353.8,474.35 L354.8,474.28 L355.8,474.22 L356.8,474.15 L357.8,474.09 L358.8,474.02 L359.8,473.95 L360.8,473.88 L361.8,473.82 L362.8,473.75 L363.8,473.68 L364.8,473.61 L365.8,473.54 L366.8,473.47 L367.8,473.40 L368.8,473.33 L369.8,473.26 L370.8,473.18 L371.8,473.11 L372.8,473.04 L373.8,472.97 L374.8,472.90 L375.8,472.82 L376.8,472.75 L377.8,472.68 L378.8,472.60 L379.8,472.53 L380.8,472.46 L381.8,472.38 L382.8,472.31 L383.8,472.23 L384.8,472.16 L385.8,472.09 L386.8,472.01 L387.8,471.94 L388.8,471.86 L389.8,471.79 L390.8,471.71 L391.8,471.64 L392.8,471.56 L393.8,471.49 L394.8,471.41 L395.8,471.34 L396.8,471.26 L397.8,471.19 L398.8,471.11 L399.8,471.04 L400.8,470.96 L401.8,470.89 L402.8,470.81 L403.8,470.74 L404.8,470.67 L405.8,470.59 L406.8,470.52 L407.8,470.44 L408.8,470.37 L409.8,470.30 L410.8,470.22 L411.8,470.15 L412.8,470.08 L413.8,470.00 L414.8,469.93 L415.8,469.86 L416.8,469.79 L417.8,469.72 L418.8,469.65 L419.8,469.57 L420.8,469.50 L421.8,469.43 L422.8,469.36 L423.8,469.29 L424.8,469.22 L425.8,469.16 L426.8,469.09 L427.8,469.02 L428.8,468.95 L429.8,468.88 L430.8,468.82 L431.8,468.75 L432.8,468.68 L433.8,468.62 L434.8,468.55 L435.8,468.49 L436.8,468.43 L437.8,468.36 L438.8,468.30 L439.8,468.24 L440.8,468.18 L441.8,468.11 L442.8,468.05 L443.8,467.99 L444.8,467.93 L445.8,467.88 L446.8,467.82 L447.8,467.76 L448.8,467.70 L449.8,467.65 L450.8,467.59 L451.8,467.54 L452.8,467.48 L453.8,467.43 L454.8,467.38 L455.8,467.33 L456.8,467.28 L457.8,467.23 L458.8,467.18 L459.8,467.13 L460.8,467.08 L461.8,467.03 L462.8,466.99 L463.8,466.94 L464.8,466.90 L465.8,466.85 L466.8,466.81 L467.8,466.77 L468.8,466.73 L469.8,466.69 L470.8,466.65 L471.8,466.61 L472.8,466.57 L473.8,466.54 L474.8,466.50 L475.8,466.47 L476.8,466.44 L477.8,466.40 L478.8,466.37 L479.8,466.34 L480.8,466.31 L481.8,466.29 L482.8,466.26 L483.8,466.23 L484.8,466.21 L485.8,466.19 L486.8,466.16 L487.8,466.14 L488.8,466.12 L489.8,466.10 L490.8,466.09 L491.8,466.07 L492.8,466.06 L493.8,466.04 L494.8,466.03 L495.8,466.02 L496.8,466.01 L497.8,466.00 L498.8,465.99 L499.8,465.98 L500.8,465.98 L501.8,465.98 L502.8,465.97 L503.8,465.97 L504.8,465.97" fill="none" stroke="#eca52e" stroke-width="1.3" stroke-linejoin="round" />
<path d="M143.8,527.40 L144.8,526.66 L145.8,525.87 L146.8,525.04 L147.8,524.17 L148.8,523.27 L149.8,522.34 L150.8,521.39 L151.8,520.41 L152.8,519.41 L153.8,518.40 L154.8,517.38 L155.8,516.34 L156.8,515.30 L157.8,514.26 L158.8,513.23 L159.8,512.20 L160.8,511.17 L161.8,510.16 L162.8,509.17 L163.8,508.20 L164.8,507.25 L165.8,506.33 L166.8,505.43 L167.8,504.56 L168.8,503.72 L169.8,502.90 L170.8,502.10 L171.8,501.33 L172.8,500.59 L173.8,499.86 L174.8,499.16 L175.8,498.48 L176.8,497.81 L177.8,497.17 L178.8,496.55 L179.8,495.94 L180.8,495.35 L181.8,494.78 L182.8,494.23 L183.8,493.69 L184.8,493.17 L185.8,492.66 L186.8,492.16 L187.8,491.68 L188.8,491.21 L189.8,490.75 L190.8,490.30 L191.8,489.86 L192.8,489.43 L193.8,489.01 L194.8,488.59 L195.8,488.19 L196.8,487.79 L197.8,487.40 L198.8,487.01 L199.8,486.64 L200.8,486.27 L201.8,485.90 L202.8,485.55 L203.8,485.20 L204.8,484.85 L205.8,484.51 L206.8,484.18 L207.8,483.86 L208.8,483.54 L209.8,483.23 L210.8,482.92 L211.8,482.62 L212.8,482.33 L213.8,482.04 L214.8,481.76 L215.8,481.48 L216.8,481.21 L217.8,480.94 L218.8,480.68 L219.8,480.43 L220.8,480.18 L221.8,479.93 L222.8,479.69 L223.8,479.46 L224.8,479.23 L225.8,479.00 L226.8,478.78 L227.8,478.57 L228.8,478.36 L229.8,478.15 L230.8,477.95 L231.8,477.76 L232.8,477.56 L233.8,477.37 L234.8,477.19 L235.8,477.01 L236.8,476.83 L237.8,476.66 L238.8,476.49 L239.8,476.33 L240.8,476.17 L241.8,476.01 L242.8,475.86 L243.8,475.71 L244.8,475.56 L245.8,475.42 L246.8,475.28 L247.8,475.14 L248.8,475.01 L249.8,474.88 L250.8,474.75 L251.8,474.63 L252.8,474.51 L253.8,474.39 L254.8,474.27 L255.8,474.16 L256.8,474.05 L257.8,473.94 L258.8,473.83 L259.8,473.72 L260.8,473.62 L261.8,473.52 L262.8,473.42 L263.8,473.33 L264.8,473.23 L265.8,473.14 L266.8,473.05 L267.8,472.96 L268.8,472.87 L269.8,472.79 L270.8,472.70 L271.8,472.62 L272.8,472.53 L273.8,472.45 L274.8,472.37 L275.8,472.29 L276.8,472.21 L277.8,472.14 L278.8,472.06 L279.8,471.98 L280.8,471.91 L281.8,471.83 L282.8,471.76 L283.8,471.68 L284.8,471.61 L285.8,471.54 L286.8,471.46 L287.8,471.39 L288.8,471.31 L289.8,471.24 L290.8,471.17 L291.8,471.09 L292.8,471.02 L293.8,470.94 L294.8,470.87 L295.8,470.79 L296.8,470.72 L297.8,470.64 L298.8,470.57 L299.8,470.49 L300.8,470.42 L301.8,470.34 L302.8,470.26 L303.8,470.19 L304.8,470.11 L305.8,470.03 L306.8,469.96 L307.8,469.88 L308.8,469.80 L309.8,469.73 L310.8,469.65 L311.8,469.57 L312.8,469.50 L313.8,469.42 L314.8,469.34 L315.8,469.26 L316.8,469.18 L317.8,469.11 L318.8,469.03 L319.8,468.95 L320.8,468.87 L321.8,468.79 L322.8,468.72 L323.8,468.64 L324.8,468.56 L325.8,468.48 L326.8,468.40 L327.8,468.32 L328.8,468.25 L329.8,468.17 L330.8,468.09 L331.8,468.01 L332.8,467.93 L333.8,467.85 L334.8,467.77 L335.8,467.69 L336.8,467.62 L337.8,467.54 L338.8,467.46 L339.8,467.38 L340.8,467.30 L341.8,467.22 L342.8,467.14 L343.8,467.06 L344.8,466.98 L345.8,466.91 L346.8,466.83 L347.8,466.75 L348.8,466.67 L349.8,466.59 L350.8,466.51 L351.8,466.43 L352.8,466.36 L353.8,466.28 L354.8,466.20 L355.8,466.12 L356.8,466.04 L357.8,465.96 L358.8,465.89 L359.8,465.81 L360.8,465.73 L361.8,465.65 L362.8,465.58 L363.8,465.50 L364.8,465.42 L365.8,465.34 L366.8,465.27 L367.8,465.19 L368.8,465.11 L369.8,465.04 L370.8,464.96 L371.8,464.88 L372.8,464.81 L373.8,464.73 L374.8,464.65 L375.8,464.58 L376.8,464.50 L377.8,464.43 L378.8,464.35 L379.8,464.28 L380.8,464.20 L381.8,464.12 L382.8,464.05 L383.8,463.98 L384.8,463.90 L385.8,463.83 L386.8,463.75 L387.8,463.68 L388.8,463.61 L389.8,463.53 L390.8,463.46 L391.8,463.39 L392.8,463.31 L393.8,463.24 L394.8,463.17 L395.8,463.10 L396.8,463.02 L397.8,462.95 L398.8,462.88 L399.8,462.81 L400.8,462.74 L401.8,462.67 L402.8,462.60 L403.8,462.53 L404.8,462.46 L405.8,462.39 L406.8,462.32 L407.8,462.25 L408.8,462.18 L409.8,462.11 L410.8,462.05 L411.8,461.98 L412.8,461.91 L413.8,461.84 L414.8,461.78 L415.8,461.71 L416.8,461.65 L417.8,461.58 L418.8,461.51 L419.8,461.45 L420.8,461.38 L421.8,461.32 L422.8,461.26 L423.8,461.19 L424.8,461.13 L425.8,461.07 L426.8,461.00 L427.8,460.94 L428.8,460.88 L429.8,460.82 L430.8,460.76 L431.8,460.70 L432.8,460.63 L433.8,460.57 L434.8,460.52 L435.8,460.46 L436.8,460.40 L437.8,460.34 L438.8,460.28 L439.8,460.22 L440.8,460.17 L441.8,460.11 L442.8,460.05 L443.8,460.00 L444.8,459.94 L445.8,459.89 L446.8,459.83 L447.8,459.78 L448.8,459.73 L449.8,459.67 L450.8,459.62 L451.8,459.57 L452.8,459.52 L453.8,459.47 L454.8,459.41 L455.8,459.36 L456.8,459.31 L457.8,459.27 L458.8,459.22 L459.8,459.17 L460.8,459.12 L461.8,459.07 L462.8,459.03 L463.8,458.98 L464.8,458.93 L465.8,458.89 L466.8,458.85 L467.8,458.80 L468.8,458.76 L469.8,458.71 L470.8,458.67 L471.8,458.63 L472.8,458.59 L473.8,458.55 L474.8,458.51 L475.8,458.47 L476.8,458.43 L477.8,458.39 L478.8,458.35 L479.8,458.32 L480.8,458.28 L481.8,458.24 L482.8,458.21 L483.8,458.17 L484.8,458.14 L485.8,458.11 L486.8,458.07 L487.8,458.04 L488.8,458.01 L489.8,457.98 L490.8,457.95 L491.8,457.92 L492.8,457.89 L493.8,457.86 L494.8,457.83 L495.8,457.80 L496.8,457.78 L497.8,457.75 L498.8,457.73 L499.8,457.70 L500.8,457.68 L501.8,457.65 L502.8,457.63 L503.8,457.61 L504.8,457.59" fill="none" stroke="#b8203f" stroke-width="1.3" stroke-linejoin="round" />
<rect x="252.1" y="64.8" width="40.8" height="4.6" fill="#dedede"/>
<path d="M252.5,67.1 H292.9" stroke="#b8b8b8" stroke-width="4.6" stroke-dasharray="0.7 1.0" opacity="0.7"/>
<text x="294.8" y="70.0" text-anchor="start" fill="#151515" font-size="7.8"  stroke="#151515" stroke-width="0.12">HLA-matched/older donor</text>
<path d="M271.7,80.1 H309.5" stroke="#5aa64a" stroke-width="1.15" stroke-dasharray="10 3.4"/>
<text x="314.3" y="82.9" text-anchor="start" fill="#62ac52" font-size="7.8"  stroke="#62ac52" stroke-width="0.12">PBM-matched/younger donor</text>
<text x="504.6" y="103.9" text-anchor="end" fill="#2a3a68" font-size="7.8"  stroke="#2a3a68" stroke-width="0.12">HLA-matched/younger donor</text>
<text x="505.4" y="143.9" text-anchor="end" fill="#eca844" font-size="7.8"  stroke="#eca844" stroke-width="0.12">PBM-matched/older donor</text>
<path d="M252.5,151.3 H291.9" stroke="#4aa6da" stroke-width="1.2"/>
<text x="296.0" y="154.2" text-anchor="start" fill="#52acdc" font-size="7.8"  stroke="#52acdc" stroke-width="0.12">PBM-mismatched/younger donor</text>
<text x="505.6" y="163.0" text-anchor="end" fill="#b82e4a" font-size="7.8"  stroke="#b82e4a" stroke-width="0.12">PBM-mismatched/older donor</text>
<path d="M232,88 L247.18,75.83" stroke="#111" stroke-width="1"/>
<path d="M251.7,72.2 L248.80,77.86 L245.55,73.80 Z" fill="#111"/>
<path d="M250.4,93.7 L264.05,84.13" stroke="#111" stroke-width="1"/>
<path d="M268.8,80.8 L265.54,86.26 L262.56,82.00 Z" fill="#111"/>
<path d="M339.3,119 L310.71,139.61" stroke="#111" stroke-width="1"/>
<path d="M306,143 L309.19,137.50 L312.23,141.72 Z" fill="#111"/>
<path d="M232.5,448.8 H271.9" stroke="#4aa6da" stroke-width="1.2"/>
<text x="276.0" y="451.7" text-anchor="start" fill="#52acdc" font-size="7.8"  stroke="#52acdc" stroke-width="0.12">PBM-mismatched/younger donor</text>
<text x="507.9" y="455.6" text-anchor="end" fill="#b82e4a" font-size="7.8"  stroke="#b82e4a" stroke-width="0.12">PBM-mismatched/older donor</text>
<text x="507.9" y="469.4" text-anchor="end" fill="#eca844" font-size="7.8"  stroke="#eca844" stroke-width="0.12">PBM-matched/older donor</text>
<text x="507.9" y="501.8" text-anchor="end" fill="#2a3a68" font-size="7.8"  stroke="#2a3a68" stroke-width="0.12">HLA-matched/younger donor</text>
<path d="M317.1,511.6 H358.8" stroke="#c6c6c6" stroke-width="2.3"/>
<text x="361.3" y="514.3" text-anchor="start" fill="#111" font-size="7.8"  stroke="#111" stroke-width="0.12">HLA-matched/older donor</text>
<path d="M311,523.2 H347.5" stroke="#5aa64a" stroke-width="1.15" stroke-dasharray="9.5 4"/>
<text x="353.0" y="526.0" text-anchor="start" fill="#62ac52" font-size="7.8"  stroke="#62ac52" stroke-width="0.12">PBM-matched/younger donor</text>
<path d="M312.3,479.7 L312.30,462.00" stroke="#111" stroke-width="1"/>
<path d="M312.3,456.2 L314.90,462.00 L309.70,462.00 Z" fill="#111"/>
<path d="M291.1,490 L304.30,516.32" stroke="#111" stroke-width="1"/>
<path d="M306.9,521.5 L301.98,517.48 L306.62,515.15 Z" fill="#111"/>
<path d="M310,489.2 L314.26,502.77" stroke="#111" stroke-width="1"/>
<path d="M316.0,508.3 L311.78,503.55 L316.74,501.99 Z" fill="#111"/>
</svg><div id="frame"></div></div></body></html>
